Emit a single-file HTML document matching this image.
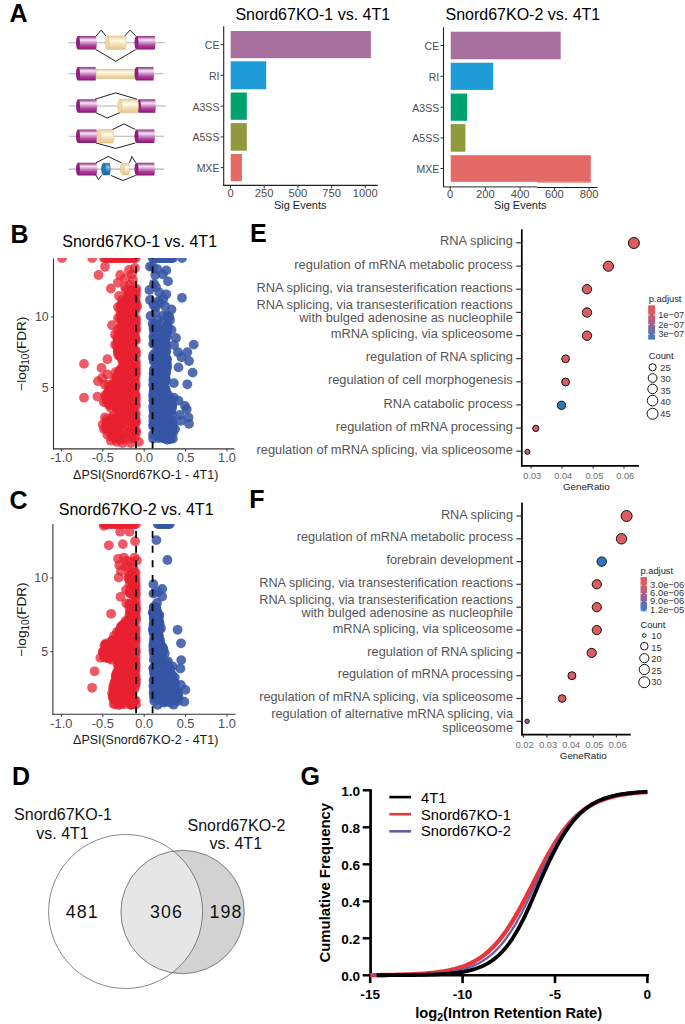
<!DOCTYPE html>
<html><head><meta charset="utf-8"><style>
html,body{margin:0;padding:0;background:#fff;width:685px;height:1024px;overflow:hidden;}
svg{display:block;}
text{font-family:"Liberation Sans",sans-serif;}
</style></head><body>
<svg width="685" height="1024" viewBox="0 0 685 1024">
<defs>
<linearGradient id="gp" x1="0" y1="0" x2="0" y2="1">
<stop offset="0" stop-color="#8a2c7e"/><stop offset="0.1" stop-color="#b066a8"/><stop offset="0.28" stop-color="#f4e6f2"/><stop offset="0.45" stop-color="#d4a2cc"/><stop offset="0.7" stop-color="#b0409a"/><stop offset="0.9" stop-color="#9a1f85"/><stop offset="1" stop-color="#7a1668"/></linearGradient>
<linearGradient id="gy" x1="0" y1="0" x2="0" y2="1">
<stop offset="0" stop-color="#e9cf98"/><stop offset="0.35" stop-color="#fffaf0"/><stop offset="0.6" stop-color="#f6e2b8"/><stop offset="1" stop-color="#e2c488"/></linearGradient>
<linearGradient id="gb" x1="0" y1="0" x2="0" y2="1">
<stop offset="0" stop-color="#1f6fa8"/><stop offset="0.35" stop-color="#8cc4e8"/><stop offset="0.6" stop-color="#3b8bc4"/><stop offset="1" stop-color="#1c5e94"/></linearGradient>
<linearGradient id="cbE" x1="0" y1="0" x2="0" y2="1">
<stop offset="0" stop-color="#e05a5e"/><stop offset="0.25" stop-color="#d45c68"/><stop offset="0.55" stop-color="#a26090"/><stop offset="0.8" stop-color="#5e70b0"/><stop offset="1" stop-color="#3a80c4"/></linearGradient>
<clipPath id="clipB"><rect x="54" y="258" width="181" height="191"/></clipPath>
<clipPath id="clipC"><rect x="53" y="524" width="183" height="191"/></clipPath>
<clipPath id="c2"><circle cx="182.6" cy="912" r="61.7"/></clipPath>

</defs>
<text x="9.4" y="21.9" font-size="25" fill="#000" text-anchor="start" font-weight="bold" >A</text>
<text x="10.5" y="243.0" font-size="25" fill="#000" text-anchor="start" font-weight="bold" >B</text>
<text x="9.6" y="508.5" font-size="25" fill="#000" text-anchor="start" font-weight="bold" >C</text>
<text x="12.0" y="784.8" font-size="25" fill="#000" text-anchor="start" font-weight="bold" >D</text>
<text x="250.0" y="241.9" font-size="25" fill="#000" text-anchor="start" font-weight="bold" >E</text>
<text x="249.3" y="508.4" font-size="25" fill="#000" text-anchor="start" font-weight="bold" >F</text>
<text x="300.6" y="785.2" font-size="25" fill="#000" text-anchor="start" font-weight="bold" >G</text>
<line x1="68.40" y1="42.80" x2="164.80" y2="42.80" stroke="#b0b0b0" stroke-width="1.1" />
<path d="M78.00,36.00 L96.10,36.00 Q97.70,42.80 96.10,49.60 L78.00,49.60 Z" fill="url(#gp)" stroke="none" stroke-width="0.5"/>
<ellipse cx="78.00" cy="42.80" rx="2" ry="6.80" fill="#8e1e80" stroke="none" stroke-width="0.5"/>
<path d="M107.20,36.00 L125.40,36.00 Q127.00,42.80 125.40,49.60 L107.20,49.60 Z" fill="url(#gy)" stroke="#d8b878" stroke-width="0.5"/>
<ellipse cx="107.20" cy="42.80" rx="2" ry="6.80" fill="#f0d8a8" stroke="#d8b878" stroke-width="0.5"/>
<path d="M136.50,36.00 L154.80,36.00 Q156.40,42.80 154.80,49.60 L136.50,49.60 Z" fill="url(#gp)" stroke="none" stroke-width="0.5"/>
<ellipse cx="136.50" cy="42.80" rx="2" ry="6.80" fill="#8e1e80" stroke="none" stroke-width="0.5"/>
<polyline points="96.0,36.0 101.2,30.2 106.0,36.0" fill="none" stroke="#222" stroke-width="1"/>
<polyline points="124.8,36.0 130.0,30.2 135.7,36.0" fill="none" stroke="#222" stroke-width="1"/>
<polyline points="96.0,49.6 115.7,61.3 135.7,49.6" fill="none" stroke="#222" stroke-width="1"/>
<line x1="68.40" y1="73.80" x2="163.50" y2="73.80" stroke="#b0b0b0" stroke-width="1.1" />
<path d="M78.00,67.00 L95.60,67.00 Q97.20,73.80 95.60,80.60 L78.00,80.60 Z" fill="url(#gp)" stroke="none" stroke-width="0.5"/>
<ellipse cx="78.00" cy="73.80" rx="2" ry="6.80" fill="#8e1e80" stroke="none" stroke-width="0.5"/>
<rect x="96" y="69.2" width="40" height="9.4" fill="url(#gy)" stroke="#d8b878" stroke-width="0.5"/>
<path d="M136.50,67.00 L153.40,67.00 Q155.00,73.80 153.40,80.60 L136.50,80.60 Z" fill="url(#gp)" stroke="none" stroke-width="0.5"/>
<ellipse cx="136.50" cy="73.80" rx="2" ry="6.80" fill="#8e1e80" stroke="none" stroke-width="0.5"/>
<line x1="68.80" y1="106.00" x2="165.60" y2="106.00" stroke="#b0b0b0" stroke-width="1.1" />
<path d="M78.10,99.20 L96.50,99.20 Q98.10,106.00 96.50,112.80 L78.10,112.80 Z" fill="url(#gp)" stroke="none" stroke-width="0.5"/>
<ellipse cx="78.10" cy="106.00" rx="2" ry="6.80" fill="#8e1e80" stroke="none" stroke-width="0.5"/>
<path d="M139.00,99.20 L155.20,99.20 Q156.80,106.00 155.20,112.80 L139.00,112.80 Z" fill="url(#gp)" stroke="none" stroke-width="0.5"/>
<ellipse cx="139.00" cy="106.00" rx="2" ry="6.80" fill="#8e1e80" stroke="none" stroke-width="0.5"/>
<path d="M119.80,99.20 L137.80,99.20 Q139.40,106.00 137.80,112.80 L119.80,112.80 Z" fill="url(#gy)" stroke="#d8b878" stroke-width="0.5"/>
<ellipse cx="119.80" cy="106.00" rx="2" ry="6.80" fill="#f0d8a8" stroke="#d8b878" stroke-width="0.5"/>
<polyline points="95.0,99.2 115.7,92.9 137.0,99.2" fill="none" stroke="#222" stroke-width="1"/>
<polyline points="96.0,112.8 107.3,118.0 119.6,112.8" fill="none" stroke="#222" stroke-width="1"/>
<line x1="68.80" y1="136.30" x2="164.00" y2="136.30" stroke="#b0b0b0" stroke-width="1.1" />
<path d="M78.00,129.50 L96.50,129.50 Q98.10,136.30 96.50,143.10 L78.00,143.10 Z" fill="url(#gp)" stroke="none" stroke-width="0.5"/>
<ellipse cx="78.00" cy="136.30" rx="2" ry="6.80" fill="#8e1e80" stroke="none" stroke-width="0.5"/>
<path d="M98.80,129.50 L113.10,129.50 Q114.70,136.30 113.10,143.10 L98.80,143.10 Z" fill="url(#gy)" stroke="#d8b878" stroke-width="0.5"/>
<ellipse cx="98.80" cy="136.30" rx="2" ry="6.80" fill="#f0d8a8" stroke="#d8b878" stroke-width="0.5"/>
<path d="M136.50,129.50 L154.30,129.50 Q155.90,136.30 154.30,143.10 L136.50,143.10 Z" fill="url(#gp)" stroke="none" stroke-width="0.5"/>
<ellipse cx="136.50" cy="136.30" rx="2" ry="6.80" fill="#8e1e80" stroke="none" stroke-width="0.5"/>
<polyline points="112.6,129.5 124.0,123.9 135.3,129.5" fill="none" stroke="#222" stroke-width="1"/>
<polyline points="96.0,143.0 115.7,148.4 135.3,143.0" fill="none" stroke="#222" stroke-width="1"/>
<line x1="68.80" y1="169.10" x2="164.00" y2="169.10" stroke="#b0b0b0" stroke-width="1.1" />
<path d="M78.00,162.80 L96.50,162.80 Q98.10,169.10 96.50,175.40 L78.00,175.40 Z" fill="url(#gp)" stroke="none" stroke-width="0.5"/>
<ellipse cx="78.00" cy="169.10" rx="2" ry="6.30" fill="#8e1e80" stroke="none" stroke-width="0.5"/>
<path d="M103.50,163.30 L109.60,163.30 Q111.20,169.10 109.60,174.90 L103.50,174.90 Z" fill="url(#gb)" stroke="#1a5a90" stroke-width="0.5"/>
<ellipse cx="103.50" cy="169.10" rx="2" ry="5.80" fill="#2a78b0" stroke="#1a5a90" stroke-width="0.5"/>
<path d="M122.40,163.30 L128.80,163.30 Q130.40,169.10 128.80,174.90 L122.40,174.90 Z" fill="url(#gy)" stroke="#d8b878" stroke-width="0.5"/>
<ellipse cx="122.40" cy="169.10" rx="2" ry="5.80" fill="#f0d8a8" stroke="#d8b878" stroke-width="0.5"/>
<path d="M136.50,162.80 L154.30,162.80 Q155.90,169.10 154.30,175.40 L136.50,175.40 Z" fill="url(#gp)" stroke="none" stroke-width="0.5"/>
<ellipse cx="136.50" cy="169.10" rx="2" ry="6.30" fill="#8e1e80" stroke="none" stroke-width="0.5"/>
<polyline points="96.0,162.8 108.2,156.5 121.5,162.8" fill="none" stroke="#222" stroke-width="1"/>
<polyline points="129.5,162.8 131.8,156.5 135.7,162.8" fill="none" stroke="#222" stroke-width="1"/>
<polyline points="96.0,175.4 98.5,179.6 101.5,175.4" fill="none" stroke="#222" stroke-width="1"/>
<polyline points="110.8,175.4 123.0,180.5 135.7,175.4" fill="none" stroke="#222" stroke-width="1"/>
<text x="235.4" y="19.8" font-size="16" fill="#000" text-anchor="start" >Snord67KO-1 vs. 4T1</text>
<rect x="230.70" y="31.00" width="140.20" height="27.20" fill="#a8709f" />
<rect x="230.70" y="61.30" width="35.50" height="28.00" fill="#1e9cd7" />
<rect x="230.70" y="92.50" width="16.10" height="27.30" fill="#00a36e" />
<rect x="230.70" y="123.10" width="16.10" height="27.60" fill="#8e9a3c" />
<rect x="230.70" y="154.00" width="11.20" height="27.20" fill="#e46a66" />
<line x1="223.70" y1="26.20" x2="223.70" y2="185.90" stroke="#222" stroke-width="1.1" />
<line x1="223.20" y1="185.40" x2="377.70" y2="185.40" stroke="#222" stroke-width="1.1" />
<line x1="220.70" y1="44.60" x2="223.70" y2="44.60" stroke="#333" stroke-width="1" />
<text x="219.4" y="48.9" font-size="10.5" fill="#4d4d4d" text-anchor="end" >CE</text>
<line x1="220.70" y1="75.30" x2="223.70" y2="75.30" stroke="#333" stroke-width="1" />
<text x="219.4" y="79.6" font-size="10.5" fill="#4d4d4d" text-anchor="end" >RI</text>
<line x1="220.70" y1="106.15" x2="223.70" y2="106.15" stroke="#333" stroke-width="1" />
<text x="219.4" y="110.5" font-size="10.5" fill="#4d4d4d" text-anchor="end" >A3SS</text>
<line x1="220.70" y1="136.90" x2="223.70" y2="136.90" stroke="#333" stroke-width="1" />
<text x="219.4" y="141.2" font-size="10.5" fill="#4d4d4d" text-anchor="end" >A5SS</text>
<line x1="220.70" y1="167.60" x2="223.70" y2="167.60" stroke="#333" stroke-width="1" />
<text x="219.4" y="171.9" font-size="10.5" fill="#4d4d4d" text-anchor="end" >MXE</text>
<line x1="230.50" y1="185.40" x2="230.50" y2="188.40" stroke="#333" stroke-width="1" />
<text x="230.5" y="197.3" font-size="11.2" fill="#4d4d4d" text-anchor="middle" >0</text>
<line x1="264.20" y1="185.40" x2="264.20" y2="188.40" stroke="#333" stroke-width="1" />
<text x="264.2" y="197.3" font-size="11.2" fill="#4d4d4d" text-anchor="middle" >250</text>
<line x1="297.90" y1="185.40" x2="297.90" y2="188.40" stroke="#333" stroke-width="1" />
<text x="297.9" y="197.3" font-size="11.2" fill="#4d4d4d" text-anchor="middle" >500</text>
<line x1="331.60" y1="185.40" x2="331.60" y2="188.40" stroke="#333" stroke-width="1" />
<text x="331.6" y="197.3" font-size="11.2" fill="#4d4d4d" text-anchor="middle" >750</text>
<line x1="365.30" y1="185.40" x2="365.30" y2="188.40" stroke="#333" stroke-width="1" />
<text x="365.3" y="197.3" font-size="11.2" fill="#4d4d4d" text-anchor="middle" >1000</text>
<text x="300.2" y="208.7" font-size="11" fill="#1a1a1a" text-anchor="middle" >Sig Events</text>
<text x="445.5" y="20.4" font-size="16" fill="#000" text-anchor="start" >Snord67KO-2 vs. 4T1</text>
<rect x="450.70" y="31.70" width="110.00" height="27.60" fill="#a8709f" />
<rect x="450.70" y="62.70" width="42.50" height="27.20" fill="#1e9cd7" />
<rect x="450.70" y="93.60" width="16.30" height="27.20" fill="#00a36e" />
<rect x="450.70" y="124.10" width="14.70" height="27.60" fill="#8e9a3c" />
<rect x="450.70" y="155.20" width="140.10" height="26.60" fill="#e46a66" />
<rect x="536.80" y="181.70" width="54.00" height="0.90" fill="#e46a66" />
<line x1="443.50" y1="27.20" x2="443.50" y2="187.40" stroke="#222" stroke-width="1.1" />
<line x1="443.00" y1="186.90" x2="536.80" y2="186.90" stroke="#555" stroke-width="1.3" />
<line x1="536.80" y1="187.50" x2="597.60" y2="187.50" stroke="#1a1a1a" stroke-width="1.0" />
<line x1="440.50" y1="45.50" x2="443.50" y2="45.50" stroke="#333" stroke-width="1" />
<text x="439.2" y="49.8" font-size="10.5" fill="#4d4d4d" text-anchor="end" >CE</text>
<line x1="440.50" y1="76.30" x2="443.50" y2="76.30" stroke="#333" stroke-width="1" />
<text x="439.2" y="80.6" font-size="10.5" fill="#4d4d4d" text-anchor="end" >RI</text>
<line x1="440.50" y1="107.20" x2="443.50" y2="107.20" stroke="#333" stroke-width="1" />
<text x="439.2" y="111.5" font-size="10.5" fill="#4d4d4d" text-anchor="end" >A3SS</text>
<line x1="440.50" y1="137.90" x2="443.50" y2="137.90" stroke="#333" stroke-width="1" />
<text x="439.2" y="142.2" font-size="10.5" fill="#4d4d4d" text-anchor="end" >A5SS</text>
<line x1="440.50" y1="168.50" x2="443.50" y2="168.50" stroke="#333" stroke-width="1" />
<text x="439.2" y="172.8" font-size="10.5" fill="#4d4d4d" text-anchor="end" >MXE</text>
<line x1="450.20" y1="186.90" x2="450.20" y2="189.90" stroke="#333" stroke-width="1" />
<text x="450.2" y="198.3" font-size="11.2" fill="#4d4d4d" text-anchor="middle" >0</text>
<line x1="485.40" y1="186.90" x2="485.40" y2="189.90" stroke="#333" stroke-width="1" />
<text x="485.4" y="198.3" font-size="11.2" fill="#4d4d4d" text-anchor="middle" >200</text>
<line x1="520.10" y1="186.90" x2="520.10" y2="189.90" stroke="#333" stroke-width="1" />
<text x="520.1" y="198.3" font-size="11.2" fill="#4d4d4d" text-anchor="middle" >400</text>
<line x1="554.40" y1="186.90" x2="554.40" y2="189.90" stroke="#333" stroke-width="1" />
<text x="554.4" y="198.3" font-size="11.2" fill="#4d4d4d" text-anchor="middle" >600</text>
<line x1="589.10" y1="186.90" x2="589.10" y2="189.90" stroke="#333" stroke-width="1" />
<text x="589.1" y="198.3" font-size="11.2" fill="#4d4d4d" text-anchor="middle" >800</text>
<text x="520.2" y="209.3" font-size="11" fill="#1a1a1a" text-anchor="middle" >Sig Events</text>
<text x="62.3" y="247.4" font-size="16" fill="#000" text-anchor="start" >Snord67KO-1 vs. 4T1</text>
<g clip-path="url(#clipB)" fill="#e8202f" fill-opacity="0.74">
<circle cx="62.0" cy="258.0" r="4.9"/>
<circle cx="92.2" cy="258.0" r="4.9"/>
<circle cx="104.0" cy="258.0" r="4.9"/>
<circle cx="105.5" cy="258.0" r="4.9"/>
<circle cx="107.0" cy="258.0" r="4.9"/>
<circle cx="108.5" cy="258.0" r="4.9"/>
<circle cx="110.0" cy="258.0" r="4.9"/>
<circle cx="111.5" cy="258.0" r="4.9"/>
<circle cx="113.1" cy="258.0" r="4.9"/>
<circle cx="114.6" cy="258.0" r="4.9"/>
<circle cx="116.1" cy="258.0" r="4.9"/>
<circle cx="117.6" cy="258.0" r="4.9"/>
<circle cx="119.1" cy="258.0" r="4.9"/>
<circle cx="120.6" cy="258.0" r="4.9"/>
<circle cx="122.1" cy="258.0" r="4.9"/>
<circle cx="123.6" cy="258.0" r="4.9"/>
<circle cx="125.1" cy="258.0" r="4.9"/>
<circle cx="126.6" cy="258.0" r="4.9"/>
<circle cx="128.2" cy="258.0" r="4.9"/>
<circle cx="129.7" cy="258.0" r="4.9"/>
<circle cx="131.2" cy="258.0" r="4.9"/>
<circle cx="132.7" cy="258.0" r="4.9"/>
<circle cx="134.2" cy="258.0" r="4.9"/>
<circle cx="135.7" cy="258.0" r="4.9"/>
<circle cx="105.0" cy="266.8" r="4.9"/>
<circle cx="98.6" cy="275.0" r="4.9"/>
<circle cx="120.2" cy="275.0" r="4.9"/>
<circle cx="131.9" cy="274.4" r="4.9"/>
<circle cx="124.9" cy="278.5" r="4.9"/>
<circle cx="117.9" cy="282.6" r="4.9"/>
<circle cx="110.9" cy="288.5" r="4.9"/>
<circle cx="136.0" cy="288.5" r="4.9"/>
<circle cx="119.0" cy="296.0" r="4.9"/>
<circle cx="126.0" cy="290.0" r="4.9"/>
<circle cx="130.0" cy="285.0" r="4.9"/>
<circle cx="133.0" cy="280.0" r="4.9"/>
<circle cx="128.0" cy="296.0" r="4.9"/>
<circle cx="134.0" cy="296.0" r="4.9"/>
<circle cx="137.2" cy="306.0" r="4.9"/>
<circle cx="117.9" cy="307.1" r="4.9"/>
<circle cx="112.0" cy="325.2" r="4.9"/>
<circle cx="129.0" cy="270.0" r="4.9"/>
<circle cx="135.0" cy="268.0" r="4.9"/>
<circle cx="122.0" cy="300.0" r="4.9"/>
<circle cx="125.0" cy="287.0" r="4.9"/>
<circle cx="115.0" cy="334.7" r="4.9"/>
<circle cx="115.0" cy="344.6" r="4.9"/>
<circle cx="107.4" cy="359.2" r="4.9"/>
<circle cx="101.5" cy="368.0" r="4.9"/>
<circle cx="107.4" cy="374.4" r="4.9"/>
<circle cx="102.1" cy="377.9" r="4.9"/>
<circle cx="108.5" cy="384.9" r="4.9"/>
<circle cx="114.4" cy="380.2" r="4.9"/>
<circle cx="97.4" cy="396.6" r="4.9"/>
<circle cx="84.0" cy="363.9" r="4.9"/>
<circle cx="84.0" cy="397.7" r="4.9"/>
<circle cx="98.0" cy="381.2" r="4.9"/>
<circle cx="105.0" cy="384.7" r="4.9"/>
<circle cx="108.5" cy="391.7" r="4.9"/>
<circle cx="105.0" cy="395.2" r="4.9"/>
<circle cx="103.9" cy="402.2" r="4.9"/>
<circle cx="110.9" cy="408.0" r="4.9"/>
<circle cx="105.0" cy="417.4" r="4.9"/>
<circle cx="102.7" cy="424.4" r="4.9"/>
<circle cx="103.9" cy="429.0" r="4.9"/>
<circle cx="107.4" cy="434.9" r="4.9"/>
<circle cx="110.9" cy="440.7" r="4.9"/>
<circle cx="116.7" cy="441.9" r="4.9"/>
<circle cx="122.6" cy="443.0" r="4.9"/>
<circle cx="130.7" cy="443.0" r="4.9"/>
<circle cx="138.9" cy="441.9" r="4.9"/>
<circle cx="121.0" cy="352.0" r="4.9"/>
<circle cx="118.0" cy="318.0" r="4.9"/>
<circle cx="120.0" cy="310.0" r="4.9"/>
<circle cx="125.2" cy="349.5" r="4.9"/>
<circle cx="116.9" cy="408.9" r="4.9"/>
<circle cx="115.2" cy="388.1" r="4.9"/>
<circle cx="111.7" cy="423.5" r="4.9"/>
<circle cx="107.0" cy="427.6" r="4.9"/>
<circle cx="132.6" cy="352.5" r="4.9"/>
<circle cx="128.5" cy="300.7" r="4.9"/>
<circle cx="134.8" cy="380.2" r="4.9"/>
<circle cx="124.6" cy="345.5" r="4.9"/>
<circle cx="112.9" cy="436.5" r="4.9"/>
<circle cx="132.0" cy="392.3" r="4.9"/>
<circle cx="134.0" cy="428.0" r="4.9"/>
<circle cx="132.1" cy="415.3" r="4.9"/>
<circle cx="135.9" cy="433.2" r="4.9"/>
<circle cx="117.3" cy="379.1" r="4.9"/>
<circle cx="128.4" cy="352.0" r="4.9"/>
<circle cx="130.1" cy="362.4" r="4.9"/>
<circle cx="114.6" cy="419.3" r="4.9"/>
<circle cx="120.9" cy="315.1" r="4.9"/>
<circle cx="125.2" cy="352.5" r="4.9"/>
<circle cx="132.8" cy="296.6" r="4.9"/>
<circle cx="131.6" cy="317.7" r="4.9"/>
<circle cx="124.1" cy="347.6" r="4.9"/>
<circle cx="134.4" cy="414.3" r="4.9"/>
<circle cx="135.6" cy="376.4" r="4.9"/>
<circle cx="116.9" cy="430.9" r="4.9"/>
<circle cx="118.7" cy="419.8" r="4.9"/>
<circle cx="108.9" cy="396.4" r="4.9"/>
<circle cx="125.3" cy="424.4" r="4.9"/>
<circle cx="129.9" cy="342.8" r="4.9"/>
<circle cx="130.9" cy="361.2" r="4.9"/>
<circle cx="134.7" cy="397.7" r="4.9"/>
<circle cx="120.4" cy="413.5" r="4.9"/>
<circle cx="118.1" cy="352.2" r="4.9"/>
<circle cx="117.2" cy="337.8" r="4.9"/>
<circle cx="117.8" cy="374.4" r="4.9"/>
<circle cx="132.5" cy="408.4" r="4.9"/>
<circle cx="130.5" cy="389.3" r="4.9"/>
<circle cx="115.1" cy="401.8" r="4.9"/>
<circle cx="123.3" cy="358.7" r="4.9"/>
<circle cx="121.9" cy="368.2" r="4.9"/>
<circle cx="116.9" cy="404.2" r="4.9"/>
<circle cx="128.1" cy="428.2" r="4.9"/>
<circle cx="122.0" cy="368.8" r="4.9"/>
<circle cx="116.4" cy="377.0" r="4.9"/>
<circle cx="127.8" cy="298.2" r="4.9"/>
<circle cx="135.2" cy="321.5" r="4.9"/>
<circle cx="133.3" cy="317.2" r="4.9"/>
<circle cx="132.8" cy="338.3" r="4.9"/>
<circle cx="128.8" cy="375.0" r="4.9"/>
<circle cx="135.7" cy="400.8" r="4.9"/>
<circle cx="125.1" cy="386.9" r="4.9"/>
<circle cx="121.0" cy="372.5" r="4.9"/>
<circle cx="126.9" cy="355.6" r="4.9"/>
<circle cx="135.0" cy="417.3" r="4.9"/>
<circle cx="126.6" cy="380.1" r="4.9"/>
<circle cx="106.7" cy="419.7" r="4.9"/>
<circle cx="132.8" cy="369.4" r="4.9"/>
<circle cx="121.1" cy="420.9" r="4.9"/>
<circle cx="120.2" cy="348.0" r="4.9"/>
<circle cx="135.6" cy="301.3" r="4.9"/>
<circle cx="135.6" cy="303.7" r="4.9"/>
<circle cx="129.4" cy="390.7" r="4.9"/>
<circle cx="120.9" cy="305.5" r="4.9"/>
<circle cx="135.8" cy="364.8" r="4.9"/>
<circle cx="129.6" cy="349.9" r="4.9"/>
<circle cx="131.6" cy="327.1" r="4.9"/>
<circle cx="125.4" cy="379.7" r="4.9"/>
<circle cx="135.8" cy="323.3" r="4.9"/>
<circle cx="131.7" cy="335.1" r="4.9"/>
<circle cx="121.9" cy="369.6" r="4.9"/>
<circle cx="120.3" cy="389.4" r="4.9"/>
<circle cx="122.2" cy="410.6" r="4.9"/>
<circle cx="127.2" cy="385.9" r="4.9"/>
<circle cx="129.2" cy="293.6" r="4.9"/>
<circle cx="121.9" cy="306.4" r="4.9"/>
<circle cx="127.6" cy="419.8" r="4.9"/>
<circle cx="120.7" cy="326.1" r="4.9"/>
<circle cx="124.3" cy="343.9" r="4.9"/>
<circle cx="134.7" cy="355.2" r="4.9"/>
<circle cx="135.6" cy="320.4" r="4.9"/>
<circle cx="131.0" cy="342.9" r="4.9"/>
<circle cx="118.5" cy="342.9" r="4.9"/>
<circle cx="108.4" cy="403.0" r="4.9"/>
<circle cx="123.2" cy="380.9" r="4.9"/>
<circle cx="135.6" cy="302.5" r="4.9"/>
<circle cx="126.3" cy="403.1" r="4.9"/>
<circle cx="135.9" cy="430.6" r="4.9"/>
<circle cx="119.7" cy="351.4" r="4.9"/>
<circle cx="133.7" cy="293.3" r="4.9"/>
<circle cx="131.8" cy="405.8" r="4.9"/>
<circle cx="118.7" cy="372.8" r="4.9"/>
<circle cx="120.9" cy="349.6" r="4.9"/>
<circle cx="122.6" cy="348.5" r="4.9"/>
<circle cx="128.8" cy="384.1" r="4.9"/>
<circle cx="110.0" cy="420.6" r="4.9"/>
<circle cx="121.0" cy="434.5" r="4.9"/>
<circle cx="122.5" cy="319.3" r="4.9"/>
<circle cx="121.0" cy="315.6" r="4.9"/>
<circle cx="106.9" cy="395.5" r="4.9"/>
<circle cx="106.4" cy="425.0" r="4.9"/>
<circle cx="123.8" cy="412.7" r="4.9"/>
<circle cx="126.6" cy="302.0" r="4.9"/>
<circle cx="131.6" cy="311.2" r="4.9"/>
<circle cx="134.9" cy="331.5" r="4.9"/>
<circle cx="113.9" cy="384.5" r="4.9"/>
<circle cx="114.9" cy="436.9" r="4.9"/>
<circle cx="117.8" cy="422.6" r="4.9"/>
<circle cx="135.4" cy="395.1" r="4.9"/>
<circle cx="119.8" cy="424.5" r="4.9"/>
<circle cx="127.6" cy="369.2" r="4.9"/>
<circle cx="135.7" cy="383.5" r="4.9"/>
<circle cx="130.5" cy="328.8" r="4.9"/>
<circle cx="122.5" cy="357.9" r="4.9"/>
<circle cx="121.3" cy="305.3" r="4.9"/>
<circle cx="132.1" cy="408.8" r="4.9"/>
<circle cx="112.9" cy="392.0" r="4.9"/>
<circle cx="116.2" cy="438.6" r="4.9"/>
<circle cx="126.8" cy="415.2" r="4.9"/>
<circle cx="132.2" cy="366.1" r="4.9"/>
<circle cx="135.5" cy="404.6" r="4.9"/>
<circle cx="126.5" cy="403.6" r="4.9"/>
<circle cx="133.2" cy="356.3" r="4.9"/>
<circle cx="117.2" cy="422.0" r="4.9"/>
<circle cx="133.8" cy="340.5" r="4.9"/>
<circle cx="135.1" cy="370.4" r="4.9"/>
<circle cx="135.5" cy="386.4" r="4.9"/>
<circle cx="121.9" cy="421.2" r="4.9"/>
<circle cx="123.2" cy="365.3" r="4.9"/>
<circle cx="123.0" cy="351.6" r="4.9"/>
<circle cx="125.0" cy="330.3" r="4.9"/>
<circle cx="119.5" cy="421.8" r="4.9"/>
<circle cx="135.3" cy="350.0" r="4.9"/>
<circle cx="125.0" cy="360.1" r="4.9"/>
<circle cx="132.3" cy="378.3" r="4.9"/>
<circle cx="111.4" cy="386.7" r="4.9"/>
<circle cx="130.0" cy="330.3" r="4.9"/>
<circle cx="123.9" cy="346.0" r="4.9"/>
<circle cx="133.3" cy="359.6" r="4.9"/>
<circle cx="135.9" cy="406.0" r="4.9"/>
<circle cx="135.9" cy="373.3" r="4.9"/>
<circle cx="135.6" cy="339.6" r="4.9"/>
<circle cx="119.0" cy="394.9" r="4.9"/>
<circle cx="130.8" cy="354.7" r="4.9"/>
<circle cx="119.6" cy="411.6" r="4.9"/>
<circle cx="116.3" cy="430.2" r="4.9"/>
<circle cx="109.1" cy="390.3" r="4.9"/>
<circle cx="136.0" cy="329.7" r="4.9"/>
<circle cx="106.7" cy="422.1" r="4.9"/>
<circle cx="135.7" cy="370.9" r="4.9"/>
<circle cx="133.1" cy="419.1" r="4.9"/>
<circle cx="127.0" cy="336.8" r="4.9"/>
<circle cx="114.1" cy="419.4" r="4.9"/>
<circle cx="130.7" cy="420.7" r="4.9"/>
<circle cx="118.3" cy="355.2" r="4.9"/>
<circle cx="132.0" cy="353.8" r="4.9"/>
<circle cx="120.3" cy="422.0" r="4.9"/>
<circle cx="119.9" cy="387.0" r="4.9"/>
<circle cx="124.6" cy="304.1" r="4.9"/>
<circle cx="113.5" cy="390.6" r="4.9"/>
<circle cx="110.2" cy="394.1" r="4.9"/>
<circle cx="135.7" cy="307.7" r="4.9"/>
<circle cx="118.6" cy="431.6" r="4.9"/>
<circle cx="135.0" cy="335.7" r="4.9"/>
<circle cx="106.3" cy="401.2" r="4.9"/>
<circle cx="116.0" cy="399.2" r="4.9"/>
<circle cx="120.1" cy="356.2" r="4.9"/>
<circle cx="120.1" cy="375.4" r="4.9"/>
<circle cx="121.2" cy="370.2" r="4.9"/>
<circle cx="135.7" cy="413.3" r="4.9"/>
<circle cx="118.7" cy="380.5" r="4.9"/>
<circle cx="130.2" cy="299.0" r="4.9"/>
<circle cx="122.5" cy="309.7" r="4.9"/>
<circle cx="125.2" cy="361.9" r="4.9"/>
<circle cx="135.0" cy="337.4" r="4.9"/>
<circle cx="136.0" cy="318.1" r="4.9"/>
<circle cx="114.6" cy="401.3" r="4.9"/>
<circle cx="108.2" cy="399.3" r="4.9"/>
<circle cx="118.0" cy="350.5" r="4.9"/>
<circle cx="124.3" cy="302.9" r="4.9"/>
<circle cx="128.4" cy="345.6" r="4.9"/>
<circle cx="134.8" cy="373.9" r="4.9"/>
<circle cx="130.6" cy="306.5" r="4.9"/>
<circle cx="123.2" cy="315.9" r="4.9"/>
<circle cx="122.5" cy="341.8" r="4.9"/>
<circle cx="106.7" cy="427.3" r="4.9"/>
<circle cx="117.5" cy="423.7" r="4.9"/>
<circle cx="119.6" cy="348.6" r="4.9"/>
<circle cx="115.9" cy="397.4" r="4.9"/>
<circle cx="135.9" cy="294.6" r="4.9"/>
<circle cx="123.8" cy="361.9" r="4.9"/>
<circle cx="118.7" cy="416.0" r="4.9"/>
<circle cx="120.3" cy="319.0" r="4.9"/>
<circle cx="122.3" cy="360.9" r="4.9"/>
<circle cx="122.2" cy="306.8" r="4.9"/>
<circle cx="135.5" cy="306.9" r="4.9"/>
<circle cx="125.0" cy="369.7" r="4.9"/>
<circle cx="133.6" cy="411.0" r="4.9"/>
<circle cx="123.2" cy="373.3" r="4.9"/>
<circle cx="134.9" cy="320.1" r="4.9"/>
<circle cx="123.4" cy="410.3" r="4.9"/>
<circle cx="123.4" cy="418.9" r="4.9"/>
<circle cx="130.3" cy="368.0" r="4.9"/>
<circle cx="122.3" cy="402.7" r="4.9"/>
<circle cx="135.6" cy="395.1" r="4.9"/>
<circle cx="127.7" cy="320.0" r="4.9"/>
<circle cx="120.0" cy="370.2" r="4.9"/>
<circle cx="123.7" cy="365.8" r="4.9"/>
<circle cx="117.3" cy="346.8" r="4.9"/>
<circle cx="117.3" cy="378.7" r="4.9"/>
<circle cx="132.3" cy="429.6" r="4.9"/>
<circle cx="129.0" cy="399.0" r="4.9"/>
<circle cx="125.2" cy="362.1" r="4.9"/>
<circle cx="117.2" cy="407.3" r="4.9"/>
<circle cx="126.6" cy="365.8" r="4.9"/>
<circle cx="125.8" cy="307.2" r="4.9"/>
<circle cx="121.9" cy="357.7" r="4.9"/>
<circle cx="131.2" cy="438.5" r="4.9"/>
<circle cx="133.5" cy="324.8" r="4.9"/>
<circle cx="109.0" cy="405.3" r="4.9"/>
<circle cx="132.8" cy="353.3" r="4.9"/>
<circle cx="127.0" cy="320.9" r="4.9"/>
<circle cx="134.0" cy="297.5" r="4.9"/>
<circle cx="131.0" cy="315.6" r="4.9"/>
<circle cx="129.4" cy="431.2" r="4.9"/>
<circle cx="128.4" cy="372.9" r="4.9"/>
<circle cx="132.9" cy="359.9" r="4.9"/>
<circle cx="131.0" cy="367.6" r="4.9"/>
<circle cx="112.0" cy="433.9" r="4.9"/>
<circle cx="114.8" cy="389.2" r="4.9"/>
<circle cx="135.9" cy="328.9" r="4.9"/>
<circle cx="123.2" cy="384.3" r="4.9"/>
<circle cx="132.0" cy="405.3" r="4.9"/>
<circle cx="123.5" cy="407.5" r="4.9"/>
<circle cx="127.0" cy="305.5" r="4.9"/>
<circle cx="128.1" cy="330.1" r="4.9"/>
<circle cx="120.5" cy="369.3" r="4.9"/>
<circle cx="121.4" cy="357.6" r="4.9"/>
<circle cx="131.4" cy="407.2" r="4.9"/>
<circle cx="131.4" cy="294.7" r="4.9"/>
<circle cx="123.7" cy="378.9" r="4.9"/>
<circle cx="128.4" cy="296.6" r="4.9"/>
<circle cx="123.6" cy="355.4" r="4.9"/>
<circle cx="133.1" cy="371.3" r="4.9"/>
<circle cx="128.6" cy="360.5" r="4.9"/>
<circle cx="132.0" cy="320.5" r="4.9"/>
<circle cx="123.9" cy="380.7" r="4.9"/>
<circle cx="125.4" cy="370.9" r="4.9"/>
<circle cx="123.4" cy="409.1" r="4.9"/>
<circle cx="131.0" cy="401.0" r="4.9"/>
<circle cx="117.8" cy="380.6" r="4.9"/>
<circle cx="119.1" cy="331.2" r="4.9"/>
<circle cx="113.9" cy="424.7" r="4.9"/>
<circle cx="106.3" cy="423.7" r="4.9"/>
<circle cx="135.7" cy="422.7" r="4.9"/>
<circle cx="122.8" cy="415.1" r="4.9"/>
<circle cx="130.5" cy="326.8" r="4.9"/>
<circle cx="128.5" cy="298.2" r="4.9"/>
<circle cx="124.9" cy="401.5" r="4.9"/>
<circle cx="117.4" cy="330.1" r="4.9"/>
<circle cx="124.2" cy="390.1" r="4.9"/>
<circle cx="127.3" cy="339.9" r="4.9"/>
<circle cx="116.2" cy="382.4" r="4.9"/>
<circle cx="130.1" cy="362.7" r="4.9"/>
<circle cx="119.5" cy="371.1" r="4.9"/>
<circle cx="131.0" cy="407.2" r="4.9"/>
<circle cx="129.1" cy="334.1" r="4.9"/>
<circle cx="126.7" cy="380.4" r="4.9"/>
<circle cx="124.0" cy="419.0" r="4.9"/>
<circle cx="128.2" cy="420.2" r="4.9"/>
<circle cx="117.0" cy="424.9" r="4.9"/>
<circle cx="122.4" cy="387.4" r="4.9"/>
<circle cx="112.6" cy="416.4" r="4.9"/>
<circle cx="118.1" cy="350.6" r="4.9"/>
<circle cx="129.4" cy="414.4" r="4.9"/>
<circle cx="133.5" cy="430.6" r="4.9"/>
<circle cx="121.2" cy="411.0" r="4.9"/>
<circle cx="118.6" cy="351.2" r="4.9"/>
<circle cx="120.9" cy="356.2" r="4.9"/>
<circle cx="123.4" cy="302.6" r="4.9"/>
<circle cx="122.2" cy="323.6" r="4.9"/>
<circle cx="130.4" cy="345.9" r="4.9"/>
<circle cx="133.2" cy="323.3" r="4.9"/>
<circle cx="125.4" cy="348.3" r="4.9"/>
<circle cx="134.3" cy="438.0" r="4.9"/>
<circle cx="135.6" cy="297.1" r="4.9"/>
<circle cx="116.0" cy="424.5" r="4.9"/>
<circle cx="126.2" cy="341.9" r="4.9"/>
<circle cx="120.5" cy="425.5" r="4.9"/>
<circle cx="125.7" cy="349.2" r="4.9"/>
<circle cx="110.4" cy="421.3" r="4.9"/>
<circle cx="124.8" cy="337.2" r="4.9"/>
<circle cx="128.9" cy="359.1" r="4.9"/>
<circle cx="130.7" cy="436.1" r="4.9"/>
<circle cx="135.6" cy="325.6" r="4.9"/>
<circle cx="131.0" cy="389.8" r="4.9"/>
<circle cx="128.5" cy="323.1" r="4.9"/>
<circle cx="106.2" cy="428.1" r="4.9"/>
<circle cx="130.1" cy="382.2" r="4.9"/>
<circle cx="117.6" cy="436.5" r="4.9"/>
<circle cx="122.2" cy="356.5" r="4.9"/>
<circle cx="126.3" cy="410.2" r="4.9"/>
<circle cx="131.9" cy="341.8" r="4.9"/>
<circle cx="120.9" cy="375.3" r="4.9"/>
<circle cx="126.2" cy="353.1" r="4.9"/>
<circle cx="135.5" cy="310.4" r="4.9"/>
<circle cx="132.9" cy="347.6" r="4.9"/>
<circle cx="121.8" cy="332.3" r="4.9"/>
<circle cx="118.3" cy="341.2" r="4.9"/>
<circle cx="128.5" cy="294.2" r="4.9"/>
<circle cx="131.7" cy="344.1" r="4.9"/>
<circle cx="133.2" cy="316.4" r="4.9"/>
<circle cx="126.6" cy="344.2" r="4.9"/>
<circle cx="124.5" cy="392.4" r="4.9"/>
<circle cx="122.8" cy="373.0" r="4.9"/>
<circle cx="132.7" cy="411.1" r="4.9"/>
<circle cx="112.4" cy="400.3" r="4.9"/>
<circle cx="133.8" cy="418.7" r="4.9"/>
<circle cx="111.1" cy="399.1" r="4.9"/>
<circle cx="129.4" cy="323.0" r="4.9"/>
<circle cx="126.0" cy="323.0" r="4.9"/>
<circle cx="134.0" cy="322.2" r="4.9"/>
<circle cx="135.7" cy="397.6" r="4.9"/>
<circle cx="133.5" cy="384.6" r="4.9"/>
<circle cx="128.2" cy="320.0" r="4.9"/>
<circle cx="126.2" cy="340.2" r="4.9"/>
<circle cx="135.9" cy="290.9" r="4.9"/>
<circle cx="130.7" cy="391.3" r="4.9"/>
<circle cx="116.5" cy="381.6" r="4.9"/>
<circle cx="127.2" cy="332.4" r="4.9"/>
<circle cx="127.0" cy="398.1" r="4.9"/>
<circle cx="121.2" cy="370.3" r="4.9"/>
<circle cx="123.0" cy="367.3" r="4.9"/>
<circle cx="122.3" cy="368.6" r="4.9"/>
<circle cx="125.5" cy="316.8" r="4.9"/>
<circle cx="135.8" cy="422.7" r="4.9"/>
<circle cx="128.1" cy="339.7" r="4.9"/>
<circle cx="125.4" cy="310.9" r="4.9"/>
<circle cx="121.1" cy="418.2" r="4.9"/>
<circle cx="134.2" cy="388.3" r="4.9"/>
<circle cx="120.6" cy="374.6" r="4.9"/>
<circle cx="123.2" cy="370.8" r="4.9"/>
<circle cx="111.7" cy="418.1" r="4.9"/>
<circle cx="118.1" cy="352.3" r="4.9"/>
<circle cx="115.7" cy="434.2" r="4.9"/>
<circle cx="116.9" cy="388.1" r="4.9"/>
<circle cx="120.7" cy="415.4" r="4.9"/>
<circle cx="129.1" cy="361.9" r="4.9"/>
<circle cx="128.3" cy="403.2" r="4.9"/>
<circle cx="135.2" cy="386.8" r="4.9"/>
<circle cx="110.8" cy="421.4" r="4.9"/>
<circle cx="124.7" cy="325.7" r="4.9"/>
<circle cx="115.3" cy="384.4" r="4.9"/>
<circle cx="135.6" cy="322.4" r="4.9"/>
<circle cx="117.3" cy="403.0" r="4.9"/>
<circle cx="120.0" cy="424.5" r="4.9"/>
<circle cx="133.8" cy="372.9" r="4.9"/>
<circle cx="124.2" cy="327.1" r="4.9"/>
<circle cx="135.9" cy="351.6" r="4.9"/>
<circle cx="119.5" cy="334.8" r="4.9"/>
<circle cx="120.0" cy="355.3" r="4.9"/>
<circle cx="127.7" cy="433.0" r="4.9"/>
<circle cx="123.3" cy="389.3" r="4.9"/>
<circle cx="121.6" cy="402.2" r="4.9"/>
<circle cx="134.1" cy="362.2" r="4.9"/>
<circle cx="118.0" cy="342.0" r="4.9"/>
<circle cx="129.9" cy="317.0" r="4.9"/>
<circle cx="128.3" cy="336.9" r="4.9"/>
<circle cx="116.9" cy="376.9" r="4.9"/>
<circle cx="126.8" cy="370.4" r="4.9"/>
<circle cx="133.6" cy="370.6" r="4.9"/>
<circle cx="130.9" cy="290.0" r="4.9"/>
<circle cx="111.1" cy="434.8" r="4.9"/>
<circle cx="132.3" cy="342.8" r="4.9"/>
<circle cx="127.2" cy="349.8" r="4.9"/>
<circle cx="118.5" cy="344.0" r="4.9"/>
<circle cx="112.3" cy="391.2" r="4.9"/>
<circle cx="133.6" cy="421.8" r="4.9"/>
<circle cx="130.3" cy="373.1" r="4.9"/>
<circle cx="113.7" cy="418.8" r="4.9"/>
<circle cx="127.1" cy="366.1" r="4.9"/>
<circle cx="123.1" cy="411.1" r="4.9"/>
<circle cx="123.9" cy="433.4" r="4.9"/>
<circle cx="133.7" cy="363.9" r="4.9"/>
<circle cx="110.6" cy="402.3" r="4.9"/>
<circle cx="123.6" cy="331.4" r="4.9"/>
<circle cx="129.9" cy="375.1" r="4.9"/>
<circle cx="130.0" cy="409.1" r="4.9"/>
<circle cx="119.9" cy="393.7" r="4.9"/>
<circle cx="126.6" cy="393.6" r="4.9"/>
<circle cx="123.7" cy="337.4" r="4.9"/>
<circle cx="129.7" cy="413.5" r="4.9"/>
<circle cx="129.6" cy="325.6" r="4.9"/>
<circle cx="132.0" cy="352.2" r="4.9"/>
<circle cx="133.0" cy="394.1" r="4.9"/>
<circle cx="122.1" cy="438.8" r="4.9"/>
<circle cx="129.3" cy="379.6" r="4.9"/>
<circle cx="120.6" cy="351.9" r="4.9"/>
<circle cx="134.8" cy="421.2" r="4.9"/>
<circle cx="135.9" cy="368.2" r="4.9"/>
<circle cx="117.0" cy="389.4" r="4.9"/>
<circle cx="135.6" cy="431.5" r="4.9"/>
<circle cx="133.8" cy="332.8" r="4.9"/>
<circle cx="119.6" cy="351.2" r="4.9"/>
<circle cx="117.7" cy="339.7" r="4.9"/>
<circle cx="106.8" cy="394.3" r="4.9"/>
<circle cx="121.5" cy="355.8" r="4.9"/>
<circle cx="107.6" cy="400.7" r="4.9"/>
<circle cx="121.6" cy="414.9" r="4.9"/>
<circle cx="111.5" cy="437.1" r="4.9"/>
<circle cx="132.2" cy="416.2" r="4.9"/>
<circle cx="109.7" cy="430.3" r="4.9"/>
<circle cx="121.8" cy="318.7" r="4.9"/>
<circle cx="121.5" cy="354.9" r="4.9"/>
<circle cx="127.2" cy="381.9" r="4.9"/>
<circle cx="128.5" cy="357.9" r="4.9"/>
<circle cx="134.8" cy="420.2" r="4.9"/>
<circle cx="132.6" cy="327.5" r="4.9"/>
<circle cx="125.3" cy="400.3" r="4.9"/>
<circle cx="127.8" cy="405.1" r="4.9"/>
<circle cx="126.7" cy="375.3" r="4.9"/>
<circle cx="109.5" cy="403.8" r="4.9"/>
<circle cx="134.0" cy="417.7" r="4.9"/>
<circle cx="136.0" cy="354.8" r="4.9"/>
<circle cx="132.6" cy="301.6" r="4.9"/>
<circle cx="107.1" cy="430.1" r="4.9"/>
<circle cx="135.8" cy="361.4" r="4.9"/>
<circle cx="123.0" cy="439.4" r="4.9"/>
<circle cx="130.4" cy="290.5" r="4.9"/>
<circle cx="111.7" cy="386.5" r="4.9"/>
<circle cx="119.0" cy="439.5" r="4.9"/>
<circle cx="119.6" cy="415.8" r="4.9"/>
<circle cx="115.5" cy="372.2" r="4.9"/>
<circle cx="124.3" cy="316.6" r="4.9"/>
<circle cx="133.7" cy="303.2" r="4.9"/>
<circle cx="127.1" cy="365.1" r="4.9"/>
<circle cx="134.1" cy="377.8" r="4.9"/>
<circle cx="126.2" cy="343.2" r="4.9"/>
<circle cx="120.2" cy="400.3" r="4.9"/>
<circle cx="134.7" cy="391.0" r="4.9"/>
<circle cx="130.1" cy="337.2" r="4.9"/>
<circle cx="126.3" cy="327.9" r="4.9"/>
<circle cx="108.9" cy="424.6" r="4.9"/>
<circle cx="127.4" cy="340.7" r="4.9"/>
<circle cx="108.9" cy="423.1" r="4.9"/>
<circle cx="129.5" cy="399.2" r="4.9"/>
<circle cx="130.0" cy="298.5" r="4.9"/>
<circle cx="135.8" cy="419.8" r="4.9"/>
<circle cx="125.8" cy="359.8" r="4.9"/>
<circle cx="108.8" cy="399.9" r="4.9"/>
<circle cx="135.7" cy="340.6" r="4.9"/>
<circle cx="121.7" cy="326.8" r="4.9"/>
<circle cx="111.9" cy="403.6" r="4.9"/>
<circle cx="122.1" cy="414.7" r="4.9"/>
<circle cx="117.1" cy="344.2" r="4.9"/>
<circle cx="119.8" cy="396.6" r="4.9"/>
<circle cx="128.2" cy="306.5" r="4.9"/>
<circle cx="117.3" cy="408.9" r="4.9"/>
<circle cx="116.2" cy="437.0" r="4.9"/>
<circle cx="122.8" cy="390.3" r="4.9"/>
</g>
<g clip-path="url(#clipB)" fill="#3555a5" fill-opacity="0.86">
<circle cx="152.6" cy="258.0" r="4.9"/>
<circle cx="154.2" cy="258.0" r="4.9"/>
<circle cx="155.7" cy="258.0" r="4.9"/>
<circle cx="157.3" cy="258.0" r="4.9"/>
<circle cx="158.9" cy="258.0" r="4.9"/>
<circle cx="160.4" cy="258.0" r="4.9"/>
<circle cx="162.0" cy="258.0" r="4.9"/>
<circle cx="163.6" cy="258.0" r="4.9"/>
<circle cx="165.2" cy="258.0" r="4.9"/>
<circle cx="166.7" cy="258.0" r="4.9"/>
<circle cx="168.3" cy="258.0" r="4.9"/>
<circle cx="169.9" cy="258.0" r="4.9"/>
<circle cx="171.4" cy="258.0" r="4.9"/>
<circle cx="173.0" cy="258.0" r="4.9"/>
<circle cx="182.0" cy="258.0" r="4.9"/>
<circle cx="150.0" cy="300.0" r="4.9"/>
<circle cx="153.5" cy="305.0" r="4.9"/>
<circle cx="160.0" cy="303.0" r="4.9"/>
<circle cx="165.0" cy="306.0" r="4.9"/>
<circle cx="150.5" cy="316.0" r="4.9"/>
<circle cx="158.0" cy="320.0" r="4.9"/>
<circle cx="163.0" cy="322.0" r="4.9"/>
<circle cx="170.0" cy="320.0" r="4.9"/>
<circle cx="149.5" cy="290.0" r="4.9"/>
<circle cx="156.0" cy="287.0" r="4.9"/>
<circle cx="152.8" cy="266.8" r="4.9"/>
<circle cx="157.5" cy="269.2" r="4.9"/>
<circle cx="166.3" cy="270.4" r="4.9"/>
<circle cx="155.2" cy="275.0" r="4.9"/>
<circle cx="162.8" cy="274.4" r="4.9"/>
<circle cx="168.0" cy="281.4" r="4.9"/>
<circle cx="154.0" cy="283.8" r="4.9"/>
<circle cx="159.3" cy="292.5" r="4.9"/>
<circle cx="166.3" cy="294.3" r="4.9"/>
<circle cx="163.4" cy="298.4" r="4.9"/>
<circle cx="182.0" cy="297.8" r="4.9"/>
<circle cx="155.8" cy="307.1" r="4.9"/>
<circle cx="171.5" cy="309.5" r="4.9"/>
<circle cx="155.2" cy="312.4" r="4.9"/>
<circle cx="167.4" cy="315.3" r="4.9"/>
<circle cx="155.2" cy="324.0" r="4.9"/>
<circle cx="166.9" cy="325.2" r="4.9"/>
<circle cx="171.5" cy="329.9" r="4.9"/>
<circle cx="149.9" cy="266.6" r="4.9"/>
<circle cx="158.2" cy="301.3" r="4.9"/>
<circle cx="163.7" cy="315.2" r="4.9"/>
<circle cx="169.3" cy="316.6" r="4.9"/>
<circle cx="152.6" cy="323.5" r="4.9"/>
<circle cx="161.0" cy="330.4" r="4.9"/>
<circle cx="193.7" cy="344.6" r="4.9"/>
<circle cx="178.0" cy="352.2" r="4.9"/>
<circle cx="187.3" cy="352.2" r="4.9"/>
<circle cx="181.5" cy="357.4" r="4.9"/>
<circle cx="189.0" cy="361.0" r="4.9"/>
<circle cx="178.5" cy="367.4" r="4.9"/>
<circle cx="192.6" cy="372.6" r="4.9"/>
<circle cx="173.9" cy="383.1" r="4.9"/>
<circle cx="187.3" cy="384.3" r="4.9"/>
<circle cx="173.9" cy="397.7" r="4.9"/>
<circle cx="178.5" cy="400.7" r="4.9"/>
<circle cx="185.0" cy="405.9" r="4.9"/>
<circle cx="186.7" cy="409.2" r="4.9"/>
<circle cx="188.5" cy="417.4" r="4.9"/>
<circle cx="189.0" cy="423.8" r="4.9"/>
<circle cx="179.7" cy="415.0" r="4.9"/>
<circle cx="180.9" cy="420.9" r="4.9"/>
<circle cx="175.0" cy="429.0" r="4.9"/>
<circle cx="176.0" cy="338.0" r="4.9"/>
<circle cx="174.0" cy="345.0" r="4.9"/>
<circle cx="161.7" cy="342.8" r="4.9"/>
<circle cx="165.7" cy="381.0" r="4.9"/>
<circle cx="165.7" cy="409.6" r="4.9"/>
<circle cx="156.0" cy="414.0" r="4.9"/>
<circle cx="160.1" cy="433.0" r="4.9"/>
<circle cx="166.3" cy="351.4" r="4.9"/>
<circle cx="157.7" cy="380.7" r="4.9"/>
<circle cx="164.2" cy="417.3" r="4.9"/>
<circle cx="172.0" cy="405.2" r="4.9"/>
<circle cx="166.2" cy="347.1" r="4.9"/>
<circle cx="158.2" cy="368.5" r="4.9"/>
<circle cx="161.2" cy="368.0" r="4.9"/>
<circle cx="160.0" cy="377.5" r="4.9"/>
<circle cx="166.8" cy="363.5" r="4.9"/>
<circle cx="155.2" cy="382.8" r="4.9"/>
<circle cx="166.9" cy="434.4" r="4.9"/>
<circle cx="156.2" cy="373.1" r="4.9"/>
<circle cx="172.2" cy="420.6" r="4.9"/>
<circle cx="153.5" cy="410.0" r="4.9"/>
<circle cx="169.8" cy="426.0" r="4.9"/>
<circle cx="170.7" cy="410.7" r="4.9"/>
<circle cx="156.3" cy="383.3" r="4.9"/>
<circle cx="165.9" cy="379.2" r="4.9"/>
<circle cx="154.3" cy="390.7" r="4.9"/>
<circle cx="153.6" cy="326.4" r="4.9"/>
<circle cx="159.4" cy="436.3" r="4.9"/>
<circle cx="159.0" cy="386.1" r="4.9"/>
<circle cx="158.0" cy="373.4" r="4.9"/>
<circle cx="169.5" cy="403.6" r="4.9"/>
<circle cx="153.9" cy="338.4" r="4.9"/>
<circle cx="159.1" cy="379.5" r="4.9"/>
<circle cx="161.2" cy="341.7" r="4.9"/>
<circle cx="159.3" cy="373.9" r="4.9"/>
<circle cx="157.3" cy="354.0" r="4.9"/>
<circle cx="158.1" cy="366.7" r="4.9"/>
<circle cx="168.2" cy="410.3" r="4.9"/>
<circle cx="164.5" cy="344.3" r="4.9"/>
<circle cx="165.6" cy="360.9" r="4.9"/>
<circle cx="157.6" cy="346.9" r="4.9"/>
<circle cx="167.3" cy="439.8" r="4.9"/>
<circle cx="162.0" cy="378.9" r="4.9"/>
<circle cx="163.5" cy="433.9" r="4.9"/>
<circle cx="153.5" cy="391.8" r="4.9"/>
<circle cx="156.0" cy="372.5" r="4.9"/>
<circle cx="167.6" cy="399.7" r="4.9"/>
<circle cx="158.2" cy="435.8" r="4.9"/>
<circle cx="153.4" cy="379.8" r="4.9"/>
<circle cx="159.3" cy="369.0" r="4.9"/>
<circle cx="165.3" cy="356.0" r="4.9"/>
<circle cx="155.1" cy="388.0" r="4.9"/>
<circle cx="166.7" cy="415.7" r="4.9"/>
<circle cx="161.4" cy="368.1" r="4.9"/>
<circle cx="166.6" cy="367.2" r="4.9"/>
<circle cx="153.0" cy="357.8" r="4.9"/>
<circle cx="164.4" cy="437.6" r="4.9"/>
<circle cx="156.2" cy="384.2" r="4.9"/>
<circle cx="159.1" cy="347.8" r="4.9"/>
<circle cx="153.2" cy="384.5" r="4.9"/>
<circle cx="170.6" cy="398.8" r="4.9"/>
<circle cx="156.2" cy="355.7" r="4.9"/>
<circle cx="161.8" cy="432.8" r="4.9"/>
<circle cx="153.9" cy="395.3" r="4.9"/>
<circle cx="168.4" cy="398.5" r="4.9"/>
<circle cx="166.7" cy="359.1" r="4.9"/>
<circle cx="158.1" cy="422.0" r="4.9"/>
<circle cx="172.7" cy="425.9" r="4.9"/>
<circle cx="157.5" cy="392.7" r="4.9"/>
<circle cx="160.3" cy="387.3" r="4.9"/>
<circle cx="156.4" cy="362.8" r="4.9"/>
<circle cx="156.5" cy="394.2" r="4.9"/>
<circle cx="161.5" cy="331.6" r="4.9"/>
<circle cx="169.9" cy="406.9" r="4.9"/>
<circle cx="167.6" cy="325.0" r="4.9"/>
<circle cx="153.2" cy="343.9" r="4.9"/>
<circle cx="161.8" cy="429.8" r="4.9"/>
<circle cx="161.1" cy="405.7" r="4.9"/>
<circle cx="153.7" cy="424.1" r="4.9"/>
<circle cx="153.2" cy="416.2" r="4.9"/>
<circle cx="166.0" cy="396.8" r="4.9"/>
<circle cx="153.9" cy="361.5" r="4.9"/>
<circle cx="168.7" cy="405.2" r="4.9"/>
<circle cx="153.3" cy="355.0" r="4.9"/>
<circle cx="158.5" cy="360.4" r="4.9"/>
<circle cx="162.0" cy="366.9" r="4.9"/>
<circle cx="157.2" cy="370.6" r="4.9"/>
<circle cx="153.5" cy="328.4" r="4.9"/>
<circle cx="162.2" cy="394.2" r="4.9"/>
<circle cx="161.5" cy="428.6" r="4.9"/>
<circle cx="164.0" cy="346.4" r="4.9"/>
<circle cx="165.5" cy="329.0" r="4.9"/>
<circle cx="159.3" cy="429.2" r="4.9"/>
<circle cx="167.2" cy="433.8" r="4.9"/>
<circle cx="156.2" cy="344.3" r="4.9"/>
<circle cx="165.4" cy="328.6" r="4.9"/>
<circle cx="163.9" cy="434.8" r="4.9"/>
<circle cx="171.3" cy="429.5" r="4.9"/>
<circle cx="154.0" cy="359.1" r="4.9"/>
<circle cx="163.0" cy="349.8" r="4.9"/>
<circle cx="154.5" cy="389.7" r="4.9"/>
<circle cx="154.2" cy="401.6" r="4.9"/>
<circle cx="165.2" cy="377.4" r="4.9"/>
<circle cx="159.5" cy="342.2" r="4.9"/>
<circle cx="161.7" cy="370.9" r="4.9"/>
<circle cx="154.3" cy="369.5" r="4.9"/>
<circle cx="169.1" cy="409.3" r="4.9"/>
<circle cx="167.0" cy="365.8" r="4.9"/>
<circle cx="165.7" cy="390.0" r="4.9"/>
<circle cx="164.2" cy="337.1" r="4.9"/>
<circle cx="165.0" cy="378.3" r="4.9"/>
<circle cx="155.5" cy="420.0" r="4.9"/>
<circle cx="160.4" cy="331.8" r="4.9"/>
<circle cx="154.0" cy="343.5" r="4.9"/>
<circle cx="163.3" cy="438.4" r="4.9"/>
<circle cx="157.7" cy="328.1" r="4.9"/>
<circle cx="164.8" cy="367.4" r="4.9"/>
<circle cx="165.1" cy="372.1" r="4.9"/>
<circle cx="157.9" cy="380.5" r="4.9"/>
<circle cx="165.7" cy="391.2" r="4.9"/>
<circle cx="172.5" cy="424.6" r="4.9"/>
<circle cx="157.9" cy="380.2" r="4.9"/>
<circle cx="166.9" cy="359.2" r="4.9"/>
<circle cx="160.4" cy="365.0" r="4.9"/>
<circle cx="161.9" cy="353.5" r="4.9"/>
<circle cx="172.9" cy="438.6" r="4.9"/>
<circle cx="162.6" cy="421.7" r="4.9"/>
<circle cx="158.2" cy="358.8" r="4.9"/>
<circle cx="166.5" cy="366.0" r="4.9"/>
<circle cx="163.8" cy="369.5" r="4.9"/>
<circle cx="163.1" cy="345.7" r="4.9"/>
<circle cx="153.4" cy="336.2" r="4.9"/>
<circle cx="166.7" cy="368.7" r="4.9"/>
<circle cx="165.5" cy="369.2" r="4.9"/>
<circle cx="153.7" cy="408.0" r="4.9"/>
<circle cx="170.4" cy="419.8" r="4.9"/>
<circle cx="160.5" cy="377.7" r="4.9"/>
<circle cx="159.1" cy="409.1" r="4.9"/>
<circle cx="159.6" cy="354.4" r="4.9"/>
<circle cx="156.2" cy="366.8" r="4.9"/>
<circle cx="161.7" cy="343.5" r="4.9"/>
<circle cx="165.0" cy="438.4" r="4.9"/>
<circle cx="163.3" cy="366.9" r="4.9"/>
<circle cx="154.4" cy="388.3" r="4.9"/>
<circle cx="162.0" cy="404.3" r="4.9"/>
<circle cx="153.1" cy="434.5" r="4.9"/>
<circle cx="160.0" cy="409.6" r="4.9"/>
<circle cx="160.8" cy="333.8" r="4.9"/>
<circle cx="158.0" cy="365.2" r="4.9"/>
<circle cx="165.3" cy="353.0" r="4.9"/>
<circle cx="161.2" cy="400.0" r="4.9"/>
<circle cx="167.9" cy="400.1" r="4.9"/>
<circle cx="165.1" cy="341.2" r="4.9"/>
<circle cx="164.9" cy="389.3" r="4.9"/>
<circle cx="167.5" cy="329.3" r="4.9"/>
<circle cx="155.5" cy="339.3" r="4.9"/>
<circle cx="153.4" cy="424.8" r="4.9"/>
<circle cx="172.5" cy="422.9" r="4.9"/>
<circle cx="160.2" cy="335.8" r="4.9"/>
<circle cx="157.4" cy="400.3" r="4.9"/>
<circle cx="172.1" cy="415.3" r="4.9"/>
<circle cx="170.6" cy="411.2" r="4.9"/>
<circle cx="161.1" cy="370.4" r="4.9"/>
<circle cx="164.4" cy="389.5" r="4.9"/>
<circle cx="163.9" cy="368.2" r="4.9"/>
<circle cx="158.0" cy="411.6" r="4.9"/>
<circle cx="160.4" cy="338.1" r="4.9"/>
<circle cx="166.5" cy="410.9" r="4.9"/>
<circle cx="161.1" cy="377.8" r="4.9"/>
<circle cx="162.7" cy="341.7" r="4.9"/>
<circle cx="154.6" cy="426.4" r="4.9"/>
<circle cx="153.9" cy="375.6" r="4.9"/>
<circle cx="167.5" cy="328.2" r="4.9"/>
<circle cx="157.1" cy="336.8" r="4.9"/>
<circle cx="153.6" cy="358.9" r="4.9"/>
<circle cx="164.6" cy="392.7" r="4.9"/>
<circle cx="157.4" cy="354.6" r="4.9"/>
<circle cx="154.1" cy="387.2" r="4.9"/>
<circle cx="159.0" cy="403.2" r="4.9"/>
<circle cx="171.9" cy="408.8" r="4.9"/>
<circle cx="162.6" cy="345.8" r="4.9"/>
<circle cx="162.0" cy="366.4" r="4.9"/>
<circle cx="170.4" cy="438.7" r="4.9"/>
<circle cx="157.3" cy="379.0" r="4.9"/>
<circle cx="169.3" cy="408.2" r="4.9"/>
<circle cx="163.1" cy="379.9" r="4.9"/>
<circle cx="164.1" cy="362.1" r="4.9"/>
<circle cx="156.9" cy="381.7" r="4.9"/>
<circle cx="153.8" cy="380.3" r="4.9"/>
<circle cx="161.0" cy="346.0" r="4.9"/>
<circle cx="165.6" cy="424.4" r="4.9"/>
<circle cx="161.4" cy="407.6" r="4.9"/>
<circle cx="153.6" cy="373.7" r="4.9"/>
<circle cx="164.3" cy="360.9" r="4.9"/>
<circle cx="157.9" cy="328.7" r="4.9"/>
<circle cx="163.1" cy="418.0" r="4.9"/>
<circle cx="159.4" cy="390.3" r="4.9"/>
<circle cx="164.5" cy="424.0" r="4.9"/>
<circle cx="166.6" cy="398.8" r="4.9"/>
<circle cx="165.1" cy="369.0" r="4.9"/>
<circle cx="156.5" cy="357.7" r="4.9"/>
<circle cx="161.4" cy="417.6" r="4.9"/>
<circle cx="156.0" cy="410.0" r="4.9"/>
<circle cx="156.2" cy="426.3" r="4.9"/>
<circle cx="157.2" cy="381.6" r="4.9"/>
<circle cx="154.2" cy="381.8" r="4.9"/>
<circle cx="164.3" cy="346.5" r="4.9"/>
<circle cx="153.5" cy="398.8" r="4.9"/>
<circle cx="163.6" cy="437.7" r="4.9"/>
<circle cx="153.9" cy="412.6" r="4.9"/>
<circle cx="158.4" cy="334.5" r="4.9"/>
<circle cx="162.1" cy="346.9" r="4.9"/>
<circle cx="158.5" cy="377.7" r="4.9"/>
<circle cx="167.1" cy="336.6" r="4.9"/>
<circle cx="153.1" cy="395.3" r="4.9"/>
<circle cx="156.6" cy="375.9" r="4.9"/>
<circle cx="155.4" cy="352.9" r="4.9"/>
<circle cx="169.3" cy="397.6" r="4.9"/>
<circle cx="161.8" cy="394.1" r="4.9"/>
<circle cx="157.6" cy="402.7" r="4.9"/>
<circle cx="168.0" cy="403.1" r="4.9"/>
<circle cx="164.5" cy="369.5" r="4.9"/>
<circle cx="157.2" cy="331.7" r="4.9"/>
<circle cx="164.7" cy="334.7" r="4.9"/>
<circle cx="156.8" cy="416.9" r="4.9"/>
<circle cx="158.5" cy="360.1" r="4.9"/>
<circle cx="161.2" cy="393.7" r="4.9"/>
<circle cx="168.1" cy="401.5" r="4.9"/>
<circle cx="169.5" cy="435.4" r="4.9"/>
<circle cx="169.5" cy="403.4" r="4.9"/>
<circle cx="165.7" cy="343.5" r="4.9"/>
<circle cx="155.0" cy="421.4" r="4.9"/>
<circle cx="166.1" cy="358.7" r="4.9"/>
<circle cx="153.1" cy="406.2" r="4.9"/>
<circle cx="162.5" cy="334.3" r="4.9"/>
<circle cx="162.6" cy="393.7" r="4.9"/>
<circle cx="163.6" cy="399.4" r="4.9"/>
<circle cx="168.1" cy="404.8" r="4.9"/>
<circle cx="154.7" cy="338.5" r="4.9"/>
<circle cx="158.3" cy="383.2" r="4.9"/>
<circle cx="162.6" cy="396.1" r="4.9"/>
<circle cx="166.2" cy="373.1" r="4.9"/>
<circle cx="170.5" cy="438.9" r="4.9"/>
<circle cx="162.5" cy="436.4" r="4.9"/>
<circle cx="158.8" cy="438.1" r="4.9"/>
<circle cx="153.2" cy="426.3" r="4.9"/>
<circle cx="164.4" cy="401.7" r="4.9"/>
<circle cx="155.2" cy="421.9" r="4.9"/>
<circle cx="170.2" cy="409.6" r="4.9"/>
<circle cx="161.3" cy="393.5" r="4.9"/>
<circle cx="160.0" cy="411.5" r="4.9"/>
<circle cx="166.7" cy="402.1" r="4.9"/>
<circle cx="172.2" cy="406.6" r="4.9"/>
<circle cx="155.7" cy="383.3" r="4.9"/>
<circle cx="162.9" cy="364.5" r="4.9"/>
<circle cx="160.3" cy="408.0" r="4.9"/>
<circle cx="153.7" cy="374.0" r="4.9"/>
<circle cx="162.5" cy="353.9" r="4.9"/>
<circle cx="157.5" cy="406.9" r="4.9"/>
<circle cx="162.8" cy="355.6" r="4.9"/>
<circle cx="157.7" cy="345.5" r="4.9"/>
<circle cx="163.0" cy="415.0" r="4.9"/>
<circle cx="153.8" cy="386.6" r="4.9"/>
<circle cx="164.7" cy="364.5" r="4.9"/>
<circle cx="172.9" cy="433.3" r="4.9"/>
<circle cx="164.1" cy="382.5" r="4.9"/>
<circle cx="154.1" cy="331.3" r="4.9"/>
<circle cx="168.0" cy="394.6" r="4.9"/>
<circle cx="153.1" cy="438.5" r="4.9"/>
<circle cx="172.7" cy="430.2" r="4.9"/>
<circle cx="165.2" cy="388.1" r="4.9"/>
<circle cx="157.9" cy="380.1" r="4.9"/>
<circle cx="162.7" cy="338.7" r="4.9"/>
<circle cx="156.1" cy="389.5" r="4.9"/>
<circle cx="163.1" cy="354.1" r="4.9"/>
<circle cx="164.5" cy="370.9" r="4.9"/>
<circle cx="164.2" cy="420.0" r="4.9"/>
<circle cx="154.0" cy="369.5" r="4.9"/>
<circle cx="153.7" cy="377.0" r="4.9"/>
<circle cx="167.3" cy="332.8" r="4.9"/>
<circle cx="165.0" cy="423.3" r="4.9"/>
<circle cx="157.4" cy="379.9" r="4.9"/>
<circle cx="160.6" cy="381.1" r="4.9"/>
<circle cx="158.5" cy="352.5" r="4.9"/>
<circle cx="158.8" cy="330.8" r="4.9"/>
<circle cx="161.5" cy="430.5" r="4.9"/>
<circle cx="153.4" cy="400.6" r="4.9"/>
<circle cx="160.1" cy="372.7" r="4.9"/>
<circle cx="154.8" cy="396.3" r="4.9"/>
<circle cx="162.4" cy="404.9" r="4.9"/>
<circle cx="160.6" cy="409.5" r="4.9"/>
<circle cx="162.3" cy="376.9" r="4.9"/>
<circle cx="165.2" cy="337.8" r="4.9"/>
<circle cx="167.9" cy="428.8" r="4.9"/>
<circle cx="153.3" cy="420.5" r="4.9"/>
<circle cx="167.1" cy="415.9" r="4.9"/>
<circle cx="164.8" cy="424.8" r="4.9"/>
<circle cx="171.4" cy="429.6" r="4.9"/>
<circle cx="156.8" cy="395.6" r="4.9"/>
<circle cx="157.9" cy="425.3" r="4.9"/>
<circle cx="162.3" cy="352.3" r="4.9"/>
</g>
<g clip-path="url(#clipB)">
<line x1="136.00" y1="258.00" x2="136.00" y2="449.00" stroke="#000" stroke-width="1.8" stroke-dasharray="7 7.6" stroke-dashoffset="6.3"/>
<line x1="152.60" y1="258.00" x2="152.60" y2="449.00" stroke="#000" stroke-width="1.8" stroke-dasharray="7 7.6" stroke-dashoffset="6.3"/>
</g>
<line x1="53.50" y1="258.40" x2="53.50" y2="449.40" stroke="#333" stroke-width="1.1" />
<line x1="53.00" y1="448.90" x2="234.50" y2="448.90" stroke="#333" stroke-width="1.1" />
<line x1="51.00" y1="317.00" x2="53.50" y2="317.00" stroke="#333" stroke-width="1" />
<text x="48.6" y="321.3" font-size="12.3" fill="#4d4d4d" text-anchor="end" >10</text>
<line x1="51.00" y1="387.50" x2="53.50" y2="387.50" stroke="#333" stroke-width="1" />
<text x="48.6" y="391.8" font-size="12.3" fill="#4d4d4d" text-anchor="end" >5</text>
<line x1="61.40" y1="448.90" x2="61.40" y2="451.50" stroke="#333" stroke-width="1" />
<text x="61.4" y="462.2" font-size="12.8" fill="#4d4d4d" text-anchor="middle" >-1.0</text>
<line x1="102.80" y1="448.90" x2="102.80" y2="451.50" stroke="#333" stroke-width="1" />
<text x="102.8" y="462.2" font-size="12.8" fill="#4d4d4d" text-anchor="middle" >-0.5</text>
<line x1="144.20" y1="448.90" x2="144.20" y2="451.50" stroke="#333" stroke-width="1" />
<text x="144.2" y="462.2" font-size="12.8" fill="#4d4d4d" text-anchor="middle" >0.0</text>
<line x1="185.60" y1="448.90" x2="185.60" y2="451.50" stroke="#333" stroke-width="1" />
<text x="185.6" y="462.2" font-size="12.8" fill="#4d4d4d" text-anchor="middle" >0.5</text>
<line x1="227.00" y1="448.90" x2="227.00" y2="451.50" stroke="#333" stroke-width="1" />
<text x="227.0" y="462.2" font-size="12.8" fill="#4d4d4d" text-anchor="middle" >1.0</text>
<text x="145.7" y="478.5" font-size="12.45" fill="#1a1a1a" text-anchor="middle" >ΔPSI(Snord67KO-1 - 4T1)</text>
<text transform="translate(26.3,353.7) rotate(-90)" font-size="13.6" fill="#1a1a1a" text-anchor="middle">−log<tspan font-size="10" dy="3">10</tspan><tspan dy="-3">(FDR)</tspan></text>
<text x="58.8" y="514.8" font-size="16" fill="#000" text-anchor="start" >Snord67KO-2 vs. 4T1</text>
<g clip-path="url(#clipC)" fill="#e8202f" fill-opacity="0.74">
<circle cx="104.0" cy="524.0" r="4.9"/>
<circle cx="105.5" cy="524.0" r="4.9"/>
<circle cx="107.0" cy="524.0" r="4.9"/>
<circle cx="108.6" cy="524.0" r="4.9"/>
<circle cx="110.1" cy="524.0" r="4.9"/>
<circle cx="111.6" cy="524.0" r="4.9"/>
<circle cx="113.1" cy="524.0" r="4.9"/>
<circle cx="114.7" cy="524.0" r="4.9"/>
<circle cx="116.2" cy="524.0" r="4.9"/>
<circle cx="117.7" cy="524.0" r="4.9"/>
<circle cx="119.2" cy="524.0" r="4.9"/>
<circle cx="120.8" cy="524.0" r="4.9"/>
<circle cx="122.3" cy="524.0" r="4.9"/>
<circle cx="123.8" cy="524.0" r="4.9"/>
<circle cx="125.3" cy="524.0" r="4.9"/>
<circle cx="126.9" cy="524.0" r="4.9"/>
<circle cx="128.4" cy="524.0" r="4.9"/>
<circle cx="129.9" cy="524.0" r="4.9"/>
<circle cx="131.4" cy="524.0" r="4.9"/>
<circle cx="133.0" cy="524.0" r="4.9"/>
<circle cx="134.5" cy="524.0" r="4.9"/>
<circle cx="136.0" cy="524.0" r="4.9"/>
<circle cx="118.1" cy="558.8" r="4.9"/>
<circle cx="124.0" cy="557.6" r="4.9"/>
<circle cx="134.5" cy="557.6" r="4.9"/>
<circle cx="119.3" cy="565.2" r="4.9"/>
<circle cx="128.7" cy="567.0" r="4.9"/>
<circle cx="136.9" cy="560.5" r="4.9"/>
<circle cx="118.7" cy="577.5" r="4.9"/>
<circle cx="120.5" cy="596.8" r="4.9"/>
<circle cx="126.3" cy="603.3" r="4.9"/>
<circle cx="111.1" cy="613.8" r="4.9"/>
<circle cx="108.8" cy="545.3" r="4.9"/>
<circle cx="122.8" cy="544.1" r="4.9"/>
<circle cx="135.1" cy="541.2" r="4.9"/>
<circle cx="103.9" cy="525.8" r="4.9"/>
<circle cx="120.2" cy="531.7" r="4.9"/>
<circle cx="129.6" cy="531.7" r="4.9"/>
<circle cx="125.5" cy="566.7" r="4.9"/>
<circle cx="133.6" cy="567.9" r="4.9"/>
<circle cx="128.4" cy="578.4" r="4.9"/>
<circle cx="129.6" cy="584.2" r="4.9"/>
<circle cx="130.7" cy="592.4" r="4.9"/>
<circle cx="134.8" cy="594.7" r="4.9"/>
<circle cx="132.0" cy="575.0" r="4.9"/>
<circle cx="135.0" cy="585.0" r="4.9"/>
<circle cx="121.0" cy="571.0" r="4.9"/>
<circle cx="127.0" cy="561.0" r="4.9"/>
<circle cx="131.0" cy="562.0" r="4.9"/>
<circle cx="126.0" cy="590.0" r="4.9"/>
<circle cx="105.4" cy="644.6" r="4.9"/>
<circle cx="100.3" cy="657.9" r="4.9"/>
<circle cx="94.6" cy="671.3" r="4.9"/>
<circle cx="92.1" cy="687.8" r="4.9"/>
<circle cx="103.0" cy="652.0" r="4.9"/>
<circle cx="108.0" cy="650.0" r="4.9"/>
<circle cx="112.0" cy="655.0" r="4.9"/>
<circle cx="117.0" cy="632.0" r="4.9"/>
<circle cx="114.0" cy="636.0" r="4.9"/>
<circle cx="115.1" cy="690.1" r="4.9"/>
<circle cx="135.5" cy="668.0" r="4.9"/>
<circle cx="106.9" cy="647.4" r="4.9"/>
<circle cx="126.6" cy="630.3" r="4.9"/>
<circle cx="120.1" cy="661.3" r="4.9"/>
<circle cx="134.7" cy="688.5" r="4.9"/>
<circle cx="131.7" cy="704.7" r="4.9"/>
<circle cx="135.6" cy="683.4" r="4.9"/>
<circle cx="133.0" cy="611.1" r="4.9"/>
<circle cx="121.5" cy="686.9" r="4.9"/>
<circle cx="129.9" cy="593.3" r="4.9"/>
<circle cx="107.5" cy="647.8" r="4.9"/>
<circle cx="114.7" cy="682.1" r="4.9"/>
<circle cx="119.7" cy="630.5" r="4.9"/>
<circle cx="125.7" cy="620.9" r="4.9"/>
<circle cx="123.0" cy="637.4" r="4.9"/>
<circle cx="121.5" cy="654.2" r="4.9"/>
<circle cx="135.5" cy="596.6" r="4.9"/>
<circle cx="134.7" cy="681.6" r="4.9"/>
<circle cx="131.5" cy="611.0" r="4.9"/>
<circle cx="116.4" cy="686.4" r="4.9"/>
<circle cx="122.2" cy="655.4" r="4.9"/>
<circle cx="127.5" cy="646.9" r="4.9"/>
<circle cx="119.0" cy="704.8" r="4.9"/>
<circle cx="128.8" cy="659.4" r="4.9"/>
<circle cx="103.2" cy="652.5" r="4.9"/>
<circle cx="122.1" cy="677.7" r="4.9"/>
<circle cx="124.0" cy="673.5" r="4.9"/>
<circle cx="122.8" cy="664.6" r="4.9"/>
<circle cx="135.0" cy="640.0" r="4.9"/>
<circle cx="132.8" cy="650.6" r="4.9"/>
<circle cx="130.0" cy="673.8" r="4.9"/>
<circle cx="132.3" cy="623.1" r="4.9"/>
<circle cx="129.3" cy="668.3" r="4.9"/>
<circle cx="134.9" cy="615.9" r="4.9"/>
<circle cx="116.2" cy="683.3" r="4.9"/>
<circle cx="128.3" cy="635.8" r="4.9"/>
<circle cx="128.9" cy="623.4" r="4.9"/>
<circle cx="105.7" cy="649.1" r="4.9"/>
<circle cx="125.5" cy="662.3" r="4.9"/>
<circle cx="118.4" cy="648.6" r="4.9"/>
<circle cx="124.0" cy="632.4" r="4.9"/>
<circle cx="128.0" cy="631.1" r="4.9"/>
<circle cx="119.7" cy="704.6" r="4.9"/>
<circle cx="132.4" cy="617.6" r="4.9"/>
<circle cx="124.6" cy="632.1" r="4.9"/>
<circle cx="124.6" cy="664.3" r="4.9"/>
<circle cx="130.5" cy="642.0" r="4.9"/>
<circle cx="135.5" cy="661.1" r="4.9"/>
<circle cx="134.6" cy="617.5" r="4.9"/>
<circle cx="126.5" cy="640.8" r="4.9"/>
<circle cx="121.5" cy="689.9" r="4.9"/>
<circle cx="127.1" cy="691.1" r="4.9"/>
<circle cx="132.6" cy="616.5" r="4.9"/>
<circle cx="130.9" cy="672.3" r="4.9"/>
<circle cx="135.6" cy="675.7" r="4.9"/>
<circle cx="113.3" cy="685.5" r="4.9"/>
<circle cx="106.1" cy="643.5" r="4.9"/>
<circle cx="121.2" cy="637.7" r="4.9"/>
<circle cx="124.5" cy="679.3" r="4.9"/>
<circle cx="133.3" cy="639.9" r="4.9"/>
<circle cx="106.9" cy="656.4" r="4.9"/>
<circle cx="130.5" cy="704.8" r="4.9"/>
<circle cx="133.5" cy="682.4" r="4.9"/>
<circle cx="135.9" cy="600.8" r="4.9"/>
<circle cx="134.5" cy="700.1" r="4.9"/>
<circle cx="122.7" cy="684.0" r="4.9"/>
<circle cx="131.2" cy="616.7" r="4.9"/>
<circle cx="132.5" cy="611.0" r="4.9"/>
<circle cx="118.6" cy="652.8" r="4.9"/>
<circle cx="131.7" cy="626.1" r="4.9"/>
<circle cx="125.9" cy="628.0" r="4.9"/>
<circle cx="127.7" cy="669.6" r="4.9"/>
<circle cx="124.2" cy="652.2" r="4.9"/>
<circle cx="134.6" cy="636.5" r="4.9"/>
<circle cx="122.3" cy="665.5" r="4.9"/>
<circle cx="131.4" cy="694.7" r="4.9"/>
<circle cx="129.5" cy="668.5" r="4.9"/>
<circle cx="131.5" cy="602.6" r="4.9"/>
<circle cx="132.9" cy="587.0" r="4.9"/>
<circle cx="133.2" cy="681.6" r="4.9"/>
<circle cx="115.3" cy="704.6" r="4.9"/>
<circle cx="124.8" cy="625.3" r="4.9"/>
<circle cx="133.5" cy="640.5" r="4.9"/>
<circle cx="135.7" cy="657.5" r="4.9"/>
<circle cx="119.8" cy="664.6" r="4.9"/>
<circle cx="129.6" cy="575.2" r="4.9"/>
<circle cx="119.9" cy="666.1" r="4.9"/>
<circle cx="136.0" cy="609.0" r="4.9"/>
<circle cx="134.1" cy="659.8" r="4.9"/>
<circle cx="109.7" cy="649.8" r="4.9"/>
<circle cx="135.3" cy="678.7" r="4.9"/>
<circle cx="135.9" cy="594.0" r="4.9"/>
<circle cx="131.6" cy="651.7" r="4.9"/>
<circle cx="106.9" cy="646.5" r="4.9"/>
<circle cx="123.9" cy="632.1" r="4.9"/>
<circle cx="111.9" cy="659.8" r="4.9"/>
<circle cx="131.8" cy="671.8" r="4.9"/>
<circle cx="124.4" cy="626.8" r="4.9"/>
<circle cx="134.6" cy="675.1" r="4.9"/>
<circle cx="122.7" cy="625.1" r="4.9"/>
<circle cx="132.2" cy="672.2" r="4.9"/>
<circle cx="123.6" cy="624.4" r="4.9"/>
<circle cx="131.5" cy="615.5" r="4.9"/>
<circle cx="135.6" cy="685.1" r="4.9"/>
<circle cx="129.2" cy="619.0" r="4.9"/>
<circle cx="119.9" cy="673.4" r="4.9"/>
<circle cx="133.3" cy="622.3" r="4.9"/>
<circle cx="130.5" cy="580.6" r="4.9"/>
<circle cx="116.7" cy="644.5" r="4.9"/>
<circle cx="135.6" cy="582.3" r="4.9"/>
<circle cx="127.7" cy="671.1" r="4.9"/>
<circle cx="121.1" cy="646.1" r="4.9"/>
<circle cx="134.1" cy="653.4" r="4.9"/>
<circle cx="115.9" cy="676.7" r="4.9"/>
<circle cx="118.9" cy="684.1" r="4.9"/>
<circle cx="132.7" cy="625.2" r="4.9"/>
<circle cx="114.2" cy="689.1" r="4.9"/>
<circle cx="115.0" cy="649.4" r="4.9"/>
<circle cx="126.9" cy="667.9" r="4.9"/>
<circle cx="129.3" cy="607.7" r="4.9"/>
<circle cx="130.4" cy="643.9" r="4.9"/>
<circle cx="126.1" cy="636.1" r="4.9"/>
<circle cx="114.3" cy="640.5" r="4.9"/>
<circle cx="118.1" cy="702.7" r="4.9"/>
<circle cx="126.9" cy="666.4" r="4.9"/>
<circle cx="130.2" cy="593.3" r="4.9"/>
<circle cx="105.9" cy="645.1" r="4.9"/>
<circle cx="121.2" cy="626.3" r="4.9"/>
<circle cx="131.5" cy="704.5" r="4.9"/>
<circle cx="109.2" cy="658.6" r="4.9"/>
<circle cx="119.6" cy="631.1" r="4.9"/>
<circle cx="135.4" cy="639.1" r="4.9"/>
<circle cx="122.3" cy="702.1" r="4.9"/>
<circle cx="134.7" cy="572.1" r="4.9"/>
<circle cx="118.4" cy="661.5" r="4.9"/>
<circle cx="113.7" cy="703.7" r="4.9"/>
<circle cx="134.6" cy="638.6" r="4.9"/>
<circle cx="120.9" cy="672.6" r="4.9"/>
<circle cx="117.6" cy="699.0" r="4.9"/>
<circle cx="122.5" cy="631.1" r="4.9"/>
<circle cx="129.3" cy="615.8" r="4.9"/>
<circle cx="111.8" cy="654.7" r="4.9"/>
<circle cx="130.8" cy="649.9" r="4.9"/>
<circle cx="132.4" cy="631.9" r="4.9"/>
<circle cx="117.6" cy="671.1" r="4.9"/>
<circle cx="135.6" cy="670.7" r="4.9"/>
<circle cx="121.9" cy="692.4" r="4.9"/>
<circle cx="120.8" cy="627.1" r="4.9"/>
<circle cx="132.5" cy="664.9" r="4.9"/>
<circle cx="132.3" cy="651.2" r="4.9"/>
<circle cx="132.8" cy="699.5" r="4.9"/>
<circle cx="124.9" cy="678.9" r="4.9"/>
<circle cx="134.3" cy="676.2" r="4.9"/>
<circle cx="119.9" cy="632.3" r="4.9"/>
<circle cx="134.2" cy="611.0" r="4.9"/>
<circle cx="123.4" cy="666.9" r="4.9"/>
<circle cx="135.7" cy="652.6" r="4.9"/>
<circle cx="134.1" cy="630.1" r="4.9"/>
<circle cx="135.8" cy="627.8" r="4.9"/>
<circle cx="118.7" cy="645.4" r="4.9"/>
<circle cx="135.7" cy="590.0" r="4.9"/>
<circle cx="131.2" cy="633.1" r="4.9"/>
<circle cx="117.2" cy="672.0" r="4.9"/>
<circle cx="132.6" cy="632.7" r="4.9"/>
<circle cx="121.8" cy="682.7" r="4.9"/>
<circle cx="125.1" cy="696.7" r="4.9"/>
<circle cx="129.8" cy="651.3" r="4.9"/>
<circle cx="133.2" cy="613.5" r="4.9"/>
<circle cx="132.6" cy="701.5" r="4.9"/>
<circle cx="135.4" cy="652.4" r="4.9"/>
<circle cx="135.5" cy="635.1" r="4.9"/>
<circle cx="135.8" cy="608.2" r="4.9"/>
<circle cx="113.5" cy="698.1" r="4.9"/>
<circle cx="128.6" cy="653.0" r="4.9"/>
<circle cx="126.9" cy="657.7" r="4.9"/>
<circle cx="115.1" cy="681.3" r="4.9"/>
<circle cx="132.3" cy="585.2" r="4.9"/>
<circle cx="129.5" cy="579.1" r="4.9"/>
<circle cx="131.9" cy="611.3" r="4.9"/>
<circle cx="111.8" cy="640.6" r="4.9"/>
<circle cx="114.5" cy="686.3" r="4.9"/>
<circle cx="130.7" cy="668.9" r="4.9"/>
<circle cx="125.9" cy="645.4" r="4.9"/>
<circle cx="129.1" cy="575.6" r="4.9"/>
<circle cx="120.2" cy="653.9" r="4.9"/>
<circle cx="103.0" cy="651.7" r="4.9"/>
<circle cx="121.1" cy="676.9" r="4.9"/>
<circle cx="132.7" cy="693.8" r="4.9"/>
<circle cx="125.2" cy="684.0" r="4.9"/>
<circle cx="133.0" cy="576.5" r="4.9"/>
<circle cx="135.8" cy="604.8" r="4.9"/>
<circle cx="125.0" cy="636.9" r="4.9"/>
<circle cx="130.8" cy="626.7" r="4.9"/>
<circle cx="129.3" cy="672.5" r="4.9"/>
<circle cx="132.1" cy="613.9" r="4.9"/>
<circle cx="104.4" cy="645.2" r="4.9"/>
<circle cx="135.5" cy="645.6" r="4.9"/>
<circle cx="130.8" cy="703.1" r="4.9"/>
<circle cx="131.2" cy="614.4" r="4.9"/>
<circle cx="124.0" cy="644.6" r="4.9"/>
<circle cx="127.3" cy="635.6" r="4.9"/>
<circle cx="133.3" cy="630.4" r="4.9"/>
<circle cx="121.5" cy="637.9" r="4.9"/>
<circle cx="135.4" cy="613.4" r="4.9"/>
<circle cx="126.9" cy="628.7" r="4.9"/>
<circle cx="115.5" cy="652.7" r="4.9"/>
<circle cx="129.1" cy="604.2" r="4.9"/>
<circle cx="131.6" cy="618.6" r="4.9"/>
<circle cx="135.7" cy="586.4" r="4.9"/>
<circle cx="117.8" cy="694.6" r="4.9"/>
<circle cx="129.3" cy="689.5" r="4.9"/>
<circle cx="112.1" cy="693.2" r="4.9"/>
<circle cx="135.2" cy="612.5" r="4.9"/>
<circle cx="124.1" cy="685.1" r="4.9"/>
<circle cx="130.6" cy="625.0" r="4.9"/>
<circle cx="110.7" cy="656.4" r="4.9"/>
<circle cx="119.9" cy="682.2" r="4.9"/>
<circle cx="129.9" cy="590.5" r="4.9"/>
<circle cx="124.9" cy="672.3" r="4.9"/>
<circle cx="123.7" cy="690.1" r="4.9"/>
<circle cx="120.2" cy="635.2" r="4.9"/>
<circle cx="134.0" cy="578.6" r="4.9"/>
<circle cx="116.4" cy="677.5" r="4.9"/>
<circle cx="129.6" cy="696.4" r="4.9"/>
<circle cx="134.5" cy="635.4" r="4.9"/>
<circle cx="112.6" cy="696.5" r="4.9"/>
<circle cx="135.9" cy="617.2" r="4.9"/>
<circle cx="135.0" cy="590.2" r="4.9"/>
<circle cx="134.0" cy="621.4" r="4.9"/>
<circle cx="120.1" cy="633.4" r="4.9"/>
<circle cx="135.6" cy="631.2" r="4.9"/>
<circle cx="117.6" cy="664.5" r="4.9"/>
<circle cx="124.2" cy="704.2" r="4.9"/>
<circle cx="128.3" cy="685.0" r="4.9"/>
<circle cx="110.1" cy="657.5" r="4.9"/>
<circle cx="131.3" cy="619.2" r="4.9"/>
<circle cx="120.9" cy="634.4" r="4.9"/>
<circle cx="125.3" cy="676.5" r="4.9"/>
<circle cx="128.8" cy="657.2" r="4.9"/>
<circle cx="129.2" cy="643.5" r="4.9"/>
<circle cx="122.0" cy="703.5" r="4.9"/>
<circle cx="118.9" cy="667.0" r="4.9"/>
<circle cx="105.1" cy="652.1" r="4.9"/>
<circle cx="106.5" cy="657.8" r="4.9"/>
<circle cx="128.9" cy="654.2" r="4.9"/>
<circle cx="128.4" cy="660.8" r="4.9"/>
<circle cx="115.3" cy="683.7" r="4.9"/>
<circle cx="126.6" cy="664.0" r="4.9"/>
<circle cx="131.7" cy="617.0" r="4.9"/>
<circle cx="131.6" cy="676.6" r="4.9"/>
<circle cx="108.5" cy="648.9" r="4.9"/>
<circle cx="135.6" cy="578.3" r="4.9"/>
<circle cx="133.4" cy="670.0" r="4.9"/>
<circle cx="120.7" cy="632.3" r="4.9"/>
<circle cx="133.6" cy="703.1" r="4.9"/>
<circle cx="112.9" cy="646.4" r="4.9"/>
<circle cx="117.2" cy="674.2" r="4.9"/>
<circle cx="131.0" cy="636.7" r="4.9"/>
<circle cx="118.1" cy="693.1" r="4.9"/>
<circle cx="133.1" cy="610.6" r="4.9"/>
<circle cx="116.4" cy="695.6" r="4.9"/>
<circle cx="120.1" cy="663.7" r="4.9"/>
<circle cx="134.5" cy="648.4" r="4.9"/>
<circle cx="112.6" cy="640.3" r="4.9"/>
<circle cx="119.6" cy="686.8" r="4.9"/>
<circle cx="120.9" cy="631.1" r="4.9"/>
<circle cx="127.3" cy="637.8" r="4.9"/>
<circle cx="130.7" cy="687.0" r="4.9"/>
<circle cx="133.9" cy="592.6" r="4.9"/>
<circle cx="122.5" cy="697.0" r="4.9"/>
<circle cx="131.8" cy="691.4" r="4.9"/>
<circle cx="122.6" cy="693.0" r="4.9"/>
<circle cx="132.4" cy="621.0" r="4.9"/>
<circle cx="125.4" cy="625.8" r="4.9"/>
<circle cx="134.6" cy="611.8" r="4.9"/>
<circle cx="116.2" cy="655.3" r="4.9"/>
<circle cx="127.3" cy="693.0" r="4.9"/>
<circle cx="113.0" cy="688.6" r="4.9"/>
<circle cx="131.3" cy="685.8" r="4.9"/>
<circle cx="120.0" cy="695.9" r="4.9"/>
<circle cx="135.8" cy="679.3" r="4.9"/>
<circle cx="113.3" cy="698.7" r="4.9"/>
<circle cx="114.2" cy="650.5" r="4.9"/>
<circle cx="127.8" cy="650.6" r="4.9"/>
<circle cx="133.2" cy="616.4" r="4.9"/>
<circle cx="128.5" cy="664.2" r="4.9"/>
<circle cx="105.0" cy="657.6" r="4.9"/>
<circle cx="134.2" cy="628.4" r="4.9"/>
<circle cx="129.2" cy="629.5" r="4.9"/>
<circle cx="118.6" cy="692.5" r="4.9"/>
<circle cx="116.1" cy="675.1" r="4.9"/>
<circle cx="131.3" cy="614.2" r="4.9"/>
<circle cx="128.2" cy="623.9" r="4.9"/>
<circle cx="134.7" cy="677.7" r="4.9"/>
<circle cx="130.9" cy="690.5" r="4.9"/>
<circle cx="118.9" cy="690.4" r="4.9"/>
<circle cx="116.1" cy="693.3" r="4.9"/>
<circle cx="125.1" cy="623.0" r="4.9"/>
<circle cx="119.0" cy="668.0" r="4.9"/>
<circle cx="123.7" cy="645.6" r="4.9"/>
<circle cx="135.6" cy="638.1" r="4.9"/>
<circle cx="131.0" cy="611.5" r="4.9"/>
<circle cx="118.6" cy="691.5" r="4.9"/>
<circle cx="129.8" cy="612.2" r="4.9"/>
<circle cx="135.7" cy="573.0" r="4.9"/>
<circle cx="136.0" cy="620.2" r="4.9"/>
<circle cx="131.6" cy="637.6" r="4.9"/>
<circle cx="132.3" cy="590.6" r="4.9"/>
<circle cx="103.8" cy="657.1" r="4.9"/>
<circle cx="135.8" cy="665.2" r="4.9"/>
<circle cx="116.2" cy="645.9" r="4.9"/>
<circle cx="125.1" cy="671.6" r="4.9"/>
<circle cx="126.7" cy="624.4" r="4.9"/>
<circle cx="134.2" cy="669.8" r="4.9"/>
<circle cx="125.8" cy="626.6" r="4.9"/>
<circle cx="121.5" cy="686.3" r="4.9"/>
<circle cx="116.2" cy="681.7" r="4.9"/>
<circle cx="116.4" cy="696.8" r="4.9"/>
<circle cx="131.1" cy="672.0" r="4.9"/>
<circle cx="133.6" cy="617.9" r="4.9"/>
<circle cx="128.1" cy="681.2" r="4.9"/>
<circle cx="135.7" cy="681.2" r="4.9"/>
<circle cx="123.1" cy="684.3" r="4.9"/>
<circle cx="136.0" cy="704.4" r="4.9"/>
<circle cx="134.9" cy="663.4" r="4.9"/>
<circle cx="134.1" cy="610.9" r="4.9"/>
<circle cx="134.7" cy="606.2" r="4.9"/>
<circle cx="126.7" cy="666.0" r="4.9"/>
<circle cx="122.0" cy="682.2" r="4.9"/>
<circle cx="118.8" cy="639.6" r="4.9"/>
<circle cx="131.0" cy="579.7" r="4.9"/>
<circle cx="135.7" cy="611.8" r="4.9"/>
<circle cx="122.3" cy="689.4" r="4.9"/>
<circle cx="122.5" cy="699.4" r="4.9"/>
<circle cx="135.7" cy="650.2" r="4.9"/>
<circle cx="119.4" cy="651.2" r="4.9"/>
<circle cx="134.4" cy="636.8" r="4.9"/>
<circle cx="135.8" cy="641.4" r="4.9"/>
<circle cx="135.8" cy="700.6" r="4.9"/>
<circle cx="115.3" cy="645.0" r="4.9"/>
<circle cx="115.1" cy="645.2" r="4.9"/>
<circle cx="129.5" cy="688.5" r="4.9"/>
<circle cx="119.3" cy="695.3" r="4.9"/>
<circle cx="121.9" cy="662.1" r="4.9"/>
<circle cx="125.8" cy="652.9" r="4.9"/>
<circle cx="131.0" cy="662.0" r="4.9"/>
<circle cx="126.6" cy="694.9" r="4.9"/>
<circle cx="113.8" cy="692.6" r="4.9"/>
<circle cx="125.5" cy="634.2" r="4.9"/>
<circle cx="125.2" cy="649.0" r="4.9"/>
<circle cx="116.1" cy="674.8" r="4.9"/>
<circle cx="133.6" cy="627.1" r="4.9"/>
<circle cx="126.6" cy="656.2" r="4.9"/>
<circle cx="134.3" cy="683.8" r="4.9"/>
<circle cx="116.0" cy="645.5" r="4.9"/>
<circle cx="117.7" cy="679.1" r="4.9"/>
</g>
<g clip-path="url(#clipC)" fill="#3555a5" fill-opacity="0.86">
<circle cx="157.8" cy="524.0" r="4.9"/>
<circle cx="159.3" cy="524.0" r="4.9"/>
<circle cx="160.8" cy="524.0" r="4.9"/>
<circle cx="162.3" cy="524.0" r="4.9"/>
<circle cx="163.8" cy="524.0" r="4.9"/>
<circle cx="165.3" cy="524.0" r="4.9"/>
<circle cx="166.8" cy="524.0" r="4.9"/>
<circle cx="168.3" cy="524.0" r="4.9"/>
<circle cx="169.8" cy="524.0" r="4.9"/>
<circle cx="177.6" cy="629.8" r="4.9"/>
<circle cx="181.0" cy="643.3" r="4.9"/>
<circle cx="181.2" cy="660.1" r="4.9"/>
<circle cx="180.4" cy="668.5" r="4.9"/>
<circle cx="174.8" cy="677.5" r="4.9"/>
<circle cx="185.4" cy="689.9" r="4.9"/>
<circle cx="184.3" cy="701.7" r="4.9"/>
<circle cx="172.5" cy="666.3" r="4.9"/>
<circle cx="156.4" cy="540.1" r="4.9"/>
<circle cx="167.4" cy="560.0" r="4.9"/>
<circle cx="153.4" cy="584.2" r="4.9"/>
<circle cx="162.2" cy="588.9" r="4.9"/>
<circle cx="153.4" cy="593.6" r="4.9"/>
<circle cx="162.2" cy="596.5" r="4.9"/>
<circle cx="152.8" cy="612.2" r="4.9"/>
<circle cx="159.3" cy="615.1" r="4.9"/>
<circle cx="152.8" cy="629.1" r="4.9"/>
<circle cx="161.0" cy="628.5" r="4.9"/>
<circle cx="180.9" cy="685.0" r="4.9"/>
<circle cx="173.6" cy="704.7" r="4.9"/>
<circle cx="158.0" cy="592.0" r="4.9"/>
<circle cx="157.0" cy="603.0" r="4.9"/>
<circle cx="160.0" cy="640.0" r="4.9"/>
<circle cx="163.0" cy="648.0" r="4.9"/>
<circle cx="171.2" cy="675.3" r="4.9"/>
<circle cx="156.0" cy="674.3" r="4.9"/>
<circle cx="156.2" cy="607.7" r="4.9"/>
<circle cx="165.3" cy="684.0" r="4.9"/>
<circle cx="155.9" cy="660.8" r="4.9"/>
<circle cx="157.3" cy="647.6" r="4.9"/>
<circle cx="157.0" cy="634.0" r="4.9"/>
<circle cx="153.8" cy="617.1" r="4.9"/>
<circle cx="163.4" cy="663.7" r="4.9"/>
<circle cx="163.8" cy="674.6" r="4.9"/>
<circle cx="162.0" cy="665.0" r="4.9"/>
<circle cx="158.1" cy="680.8" r="4.9"/>
<circle cx="157.7" cy="704.8" r="4.9"/>
<circle cx="154.0" cy="639.5" r="4.9"/>
<circle cx="169.0" cy="691.4" r="4.9"/>
<circle cx="158.5" cy="627.9" r="4.9"/>
<circle cx="154.5" cy="619.0" r="4.9"/>
<circle cx="157.8" cy="618.3" r="4.9"/>
<circle cx="173.4" cy="680.4" r="4.9"/>
<circle cx="170.4" cy="669.0" r="4.9"/>
<circle cx="172.2" cy="691.5" r="4.9"/>
<circle cx="176.0" cy="698.5" r="4.9"/>
<circle cx="158.6" cy="647.9" r="4.9"/>
<circle cx="155.0" cy="666.4" r="4.9"/>
<circle cx="160.1" cy="650.6" r="4.9"/>
<circle cx="161.8" cy="650.9" r="4.9"/>
<circle cx="175.0" cy="683.1" r="4.9"/>
<circle cx="155.9" cy="627.3" r="4.9"/>
<circle cx="155.2" cy="611.1" r="4.9"/>
<circle cx="160.7" cy="645.2" r="4.9"/>
<circle cx="153.5" cy="631.6" r="4.9"/>
<circle cx="158.9" cy="630.4" r="4.9"/>
<circle cx="176.2" cy="690.6" r="4.9"/>
<circle cx="170.4" cy="676.0" r="4.9"/>
<circle cx="155.8" cy="644.1" r="4.9"/>
<circle cx="156.2" cy="651.8" r="4.9"/>
<circle cx="176.6" cy="692.5" r="4.9"/>
<circle cx="154.5" cy="687.8" r="4.9"/>
<circle cx="159.6" cy="663.1" r="4.9"/>
<circle cx="164.1" cy="681.4" r="4.9"/>
<circle cx="167.5" cy="693.6" r="4.9"/>
<circle cx="173.2" cy="680.5" r="4.9"/>
<circle cx="158.3" cy="639.3" r="4.9"/>
<circle cx="155.3" cy="658.4" r="4.9"/>
<circle cx="154.7" cy="675.6" r="4.9"/>
<circle cx="158.9" cy="635.9" r="4.9"/>
<circle cx="153.4" cy="612.5" r="4.9"/>
<circle cx="155.6" cy="619.1" r="4.9"/>
<circle cx="153.6" cy="680.3" r="4.9"/>
<circle cx="154.3" cy="701.1" r="4.9"/>
<circle cx="162.9" cy="700.8" r="4.9"/>
<circle cx="156.7" cy="649.0" r="4.9"/>
<circle cx="156.4" cy="625.9" r="4.9"/>
<circle cx="153.6" cy="632.6" r="4.9"/>
<circle cx="162.2" cy="691.2" r="4.9"/>
<circle cx="154.7" cy="636.1" r="4.9"/>
<circle cx="156.4" cy="609.5" r="4.9"/>
<circle cx="156.2" cy="639.0" r="4.9"/>
<circle cx="157.0" cy="664.3" r="4.9"/>
<circle cx="165.6" cy="676.1" r="4.9"/>
<circle cx="159.1" cy="695.5" r="4.9"/>
<circle cx="156.5" cy="641.9" r="4.9"/>
<circle cx="159.7" cy="624.8" r="4.9"/>
<circle cx="154.2" cy="673.5" r="4.9"/>
<circle cx="157.1" cy="635.9" r="4.9"/>
<circle cx="155.3" cy="612.6" r="4.9"/>
<circle cx="168.5" cy="693.3" r="4.9"/>
<circle cx="154.2" cy="612.7" r="4.9"/>
<circle cx="159.4" cy="623.1" r="4.9"/>
<circle cx="160.5" cy="647.3" r="4.9"/>
<circle cx="158.0" cy="647.0" r="4.9"/>
<circle cx="155.5" cy="607.7" r="4.9"/>
<circle cx="158.8" cy="617.5" r="4.9"/>
<circle cx="154.5" cy="651.7" r="4.9"/>
<circle cx="155.6" cy="607.0" r="4.9"/>
<circle cx="161.6" cy="655.3" r="4.9"/>
<circle cx="157.1" cy="630.8" r="4.9"/>
<circle cx="156.0" cy="645.8" r="4.9"/>
<circle cx="160.7" cy="681.9" r="4.9"/>
<circle cx="155.7" cy="609.5" r="4.9"/>
<circle cx="161.0" cy="659.8" r="4.9"/>
<circle cx="172.3" cy="695.1" r="4.9"/>
<circle cx="153.6" cy="643.9" r="4.9"/>
<circle cx="158.4" cy="663.3" r="4.9"/>
<circle cx="154.5" cy="624.8" r="4.9"/>
<circle cx="157.9" cy="626.1" r="4.9"/>
<circle cx="153.8" cy="633.1" r="4.9"/>
<circle cx="156.4" cy="613.1" r="4.9"/>
<circle cx="158.3" cy="661.4" r="4.9"/>
<circle cx="157.3" cy="648.4" r="4.9"/>
<circle cx="156.4" cy="626.2" r="4.9"/>
<circle cx="154.0" cy="622.4" r="4.9"/>
<circle cx="165.9" cy="701.3" r="4.9"/>
<circle cx="165.4" cy="661.5" r="4.9"/>
<circle cx="153.3" cy="645.9" r="4.9"/>
<circle cx="154.1" cy="654.5" r="4.9"/>
<circle cx="172.3" cy="674.9" r="4.9"/>
<circle cx="155.6" cy="658.7" r="4.9"/>
<circle cx="153.8" cy="613.7" r="4.9"/>
<circle cx="157.5" cy="626.4" r="4.9"/>
<circle cx="154.8" cy="676.8" r="4.9"/>
<circle cx="166.1" cy="683.9" r="4.9"/>
<circle cx="153.5" cy="610.7" r="4.9"/>
<circle cx="160.0" cy="690.0" r="4.9"/>
<circle cx="166.6" cy="674.2" r="4.9"/>
<circle cx="155.1" cy="620.5" r="4.9"/>
<circle cx="158.3" cy="638.4" r="4.9"/>
<circle cx="153.4" cy="668.3" r="4.9"/>
<circle cx="153.5" cy="613.5" r="4.9"/>
<circle cx="154.3" cy="607.3" r="4.9"/>
<circle cx="156.2" cy="680.5" r="4.9"/>
<circle cx="154.3" cy="641.6" r="4.9"/>
<circle cx="155.4" cy="640.1" r="4.9"/>
<circle cx="159.7" cy="644.0" r="4.9"/>
<circle cx="167.0" cy="679.6" r="4.9"/>
<circle cx="153.8" cy="612.9" r="4.9"/>
<circle cx="159.2" cy="628.8" r="4.9"/>
<circle cx="153.8" cy="651.4" r="4.9"/>
<circle cx="163.8" cy="702.7" r="4.9"/>
<circle cx="161.9" cy="646.4" r="4.9"/>
<circle cx="177.8" cy="701.0" r="4.9"/>
<circle cx="153.4" cy="650.0" r="4.9"/>
<circle cx="157.0" cy="647.1" r="4.9"/>
<circle cx="160.4" cy="679.1" r="4.9"/>
<circle cx="156.2" cy="612.0" r="4.9"/>
<circle cx="157.7" cy="626.0" r="4.9"/>
<circle cx="160.8" cy="645.0" r="4.9"/>
<circle cx="160.1" cy="661.5" r="4.9"/>
<circle cx="157.8" cy="615.1" r="4.9"/>
<circle cx="154.1" cy="672.0" r="4.9"/>
<circle cx="155.0" cy="617.9" r="4.9"/>
<circle cx="159.7" cy="642.4" r="4.9"/>
<circle cx="156.0" cy="648.5" r="4.9"/>
<circle cx="154.5" cy="636.7" r="4.9"/>
<circle cx="154.9" cy="638.3" r="4.9"/>
<circle cx="158.3" cy="615.0" r="4.9"/>
<circle cx="155.2" cy="622.9" r="4.9"/>
<circle cx="165.4" cy="667.2" r="4.9"/>
<circle cx="174.1" cy="683.5" r="4.9"/>
<circle cx="155.6" cy="634.0" r="4.9"/>
<circle cx="160.9" cy="664.1" r="4.9"/>
<circle cx="154.0" cy="629.0" r="4.9"/>
<circle cx="178.6" cy="696.9" r="4.9"/>
<circle cx="157.4" cy="681.5" r="4.9"/>
<circle cx="156.6" cy="648.7" r="4.9"/>
<circle cx="164.7" cy="691.7" r="4.9"/>
<circle cx="154.3" cy="632.1" r="4.9"/>
<circle cx="175.3" cy="700.4" r="4.9"/>
<circle cx="167.9" cy="665.6" r="4.9"/>
<circle cx="160.6" cy="689.8" r="4.9"/>
<circle cx="170.1" cy="678.7" r="4.9"/>
<circle cx="164.2" cy="695.1" r="4.9"/>
<circle cx="159.2" cy="621.6" r="4.9"/>
<circle cx="163.6" cy="650.0" r="4.9"/>
<circle cx="153.5" cy="668.3" r="4.9"/>
<circle cx="156.1" cy="612.3" r="4.9"/>
<circle cx="154.1" cy="679.3" r="4.9"/>
<circle cx="155.9" cy="634.9" r="4.9"/>
<circle cx="153.8" cy="690.6" r="4.9"/>
<circle cx="153.5" cy="624.9" r="4.9"/>
<circle cx="168.2" cy="672.1" r="4.9"/>
<circle cx="153.6" cy="693.5" r="4.9"/>
<circle cx="157.0" cy="627.3" r="4.9"/>
<circle cx="155.9" cy="640.7" r="4.9"/>
<circle cx="154.2" cy="683.3" r="4.9"/>
<circle cx="154.4" cy="696.5" r="4.9"/>
<circle cx="167.9" cy="661.3" r="4.9"/>
<circle cx="154.9" cy="614.1" r="4.9"/>
<circle cx="154.4" cy="669.7" r="4.9"/>
<circle cx="158.8" cy="645.3" r="4.9"/>
<circle cx="158.0" cy="639.9" r="4.9"/>
<circle cx="154.8" cy="643.9" r="4.9"/>
<circle cx="154.8" cy="695.1" r="4.9"/>
<circle cx="153.8" cy="659.7" r="4.9"/>
<circle cx="168.1" cy="685.6" r="4.9"/>
<circle cx="153.8" cy="617.8" r="4.9"/>
<circle cx="159.8" cy="664.3" r="4.9"/>
<circle cx="155.7" cy="609.6" r="4.9"/>
<circle cx="164.8" cy="653.6" r="4.9"/>
<circle cx="154.2" cy="697.6" r="4.9"/>
<circle cx="157.3" cy="659.7" r="4.9"/>
<circle cx="177.5" cy="691.1" r="4.9"/>
<circle cx="154.3" cy="610.2" r="4.9"/>
<circle cx="155.7" cy="621.6" r="4.9"/>
<circle cx="157.3" cy="611.6" r="4.9"/>
<circle cx="170.1" cy="702.5" r="4.9"/>
<circle cx="155.8" cy="619.1" r="4.9"/>
<circle cx="153.4" cy="685.9" r="4.9"/>
<circle cx="158.8" cy="641.2" r="4.9"/>
<circle cx="155.4" cy="626.7" r="4.9"/>
<circle cx="178.0" cy="693.7" r="4.9"/>
<circle cx="159.0" cy="627.5" r="4.9"/>
<circle cx="154.8" cy="652.7" r="4.9"/>
<circle cx="158.6" cy="634.9" r="4.9"/>
<circle cx="156.3" cy="617.6" r="4.9"/>
<circle cx="161.8" cy="655.7" r="4.9"/>
<circle cx="173.0" cy="690.1" r="4.9"/>
<circle cx="162.5" cy="651.2" r="4.9"/>
<circle cx="154.5" cy="608.3" r="4.9"/>
<circle cx="154.6" cy="612.4" r="4.9"/>
<circle cx="170.8" cy="698.1" r="4.9"/>
<circle cx="156.4" cy="624.0" r="4.9"/>
<circle cx="157.8" cy="621.6" r="4.9"/>
<circle cx="155.6" cy="638.3" r="4.9"/>
<circle cx="157.4" cy="637.9" r="4.9"/>
<circle cx="153.4" cy="613.3" r="4.9"/>
<circle cx="161.1" cy="668.1" r="4.9"/>
<circle cx="167.1" cy="667.0" r="4.9"/>
<circle cx="159.8" cy="698.2" r="4.9"/>
<circle cx="153.8" cy="606.9" r="4.9"/>
<circle cx="164.8" cy="678.0" r="4.9"/>
<circle cx="153.8" cy="623.6" r="4.9"/>
<circle cx="174.6" cy="698.6" r="4.9"/>
<circle cx="167.8" cy="691.5" r="4.9"/>
<circle cx="161.2" cy="674.4" r="4.9"/>
<circle cx="154.6" cy="632.2" r="4.9"/>
<circle cx="157.5" cy="694.9" r="4.9"/>
<circle cx="161.6" cy="695.0" r="4.9"/>
<circle cx="155.3" cy="635.7" r="4.9"/>
<circle cx="159.6" cy="687.8" r="4.9"/>
<circle cx="167.6" cy="677.1" r="4.9"/>
<circle cx="154.9" cy="642.6" r="4.9"/>
<circle cx="153.8" cy="607.7" r="4.9"/>
<circle cx="154.3" cy="622.7" r="4.9"/>
<circle cx="157.9" cy="639.0" r="4.9"/>
<circle cx="159.8" cy="691.3" r="4.9"/>
<circle cx="157.8" cy="651.6" r="4.9"/>
<circle cx="158.4" cy="698.7" r="4.9"/>
<circle cx="173.0" cy="694.6" r="4.9"/>
</g>
<g clip-path="url(#clipC)">
<line x1="136.10" y1="524.00" x2="136.10" y2="715.00" stroke="#000" stroke-width="1.8" stroke-dasharray="7 7.6" stroke-dashoffset="-7.1"/>
<line x1="152.60" y1="524.00" x2="152.60" y2="715.00" stroke="#000" stroke-width="1.8" stroke-dasharray="7 7.6" stroke-dashoffset="-7.1"/>
</g>
<line x1="52.90" y1="524.00" x2="52.90" y2="714.70" stroke="#333" stroke-width="1.1" />
<line x1="52.40" y1="714.20" x2="235.60" y2="714.20" stroke="#333" stroke-width="1.1" />
<line x1="50.40" y1="578.10" x2="52.90" y2="578.10" stroke="#333" stroke-width="1" />
<text x="48.0" y="582.4" font-size="12.3" fill="#4d4d4d" text-anchor="end" >10</text>
<line x1="50.40" y1="651.70" x2="52.90" y2="651.70" stroke="#333" stroke-width="1" />
<text x="48.0" y="656.0" font-size="12.3" fill="#4d4d4d" text-anchor="end" >5</text>
<line x1="61.40" y1="714.20" x2="61.40" y2="716.80" stroke="#333" stroke-width="1" />
<text x="61.4" y="727.6" font-size="12.8" fill="#4d4d4d" text-anchor="middle" >-1.0</text>
<line x1="102.80" y1="714.20" x2="102.80" y2="716.80" stroke="#333" stroke-width="1" />
<text x="102.8" y="727.6" font-size="12.8" fill="#4d4d4d" text-anchor="middle" >-0.5</text>
<line x1="144.20" y1="714.20" x2="144.20" y2="716.80" stroke="#333" stroke-width="1" />
<text x="144.2" y="727.6" font-size="12.8" fill="#4d4d4d" text-anchor="middle" >0.0</text>
<line x1="185.60" y1="714.20" x2="185.60" y2="716.80" stroke="#333" stroke-width="1" />
<text x="185.6" y="727.6" font-size="12.8" fill="#4d4d4d" text-anchor="middle" >0.5</text>
<line x1="227.00" y1="714.20" x2="227.00" y2="716.80" stroke="#333" stroke-width="1" />
<text x="227.0" y="727.6" font-size="12.8" fill="#4d4d4d" text-anchor="middle" >1.0</text>
<text x="145.7" y="743.9" font-size="12.45" fill="#1a1a1a" text-anchor="middle" >ΔPSI(Snord67KO-2 - 4T1)</text>
<text transform="translate(25.6,619.5) rotate(-90)" font-size="13.6" fill="#1a1a1a" text-anchor="middle">−log<tspan font-size="10" dy="3">10</tspan><tspan dy="-3">(FDR)</tspan></text>
<line x1="521.80" y1="229.30" x2="521.80" y2="466.60" stroke="#000" stroke-width="1.7" />
<line x1="521.00" y1="465.80" x2="639.00" y2="465.80" stroke="#000" stroke-width="1.7" />
<line x1="516.20" y1="242.80" x2="521.80" y2="242.80" stroke="#333" stroke-width="1.2" />
<text x="512.8" y="245.4" font-size="12.85" fill="#555555" text-anchor="end" >RNA splicing</text>
<line x1="516.20" y1="266.10" x2="521.80" y2="266.10" stroke="#333" stroke-width="1.2" />
<text x="512.8" y="268.7" font-size="12.85" fill="#555555" text-anchor="end" >regulation of mRNA metabolic process</text>
<line x1="516.20" y1="289.20" x2="521.80" y2="289.20" stroke="#333" stroke-width="1.2" />
<text x="512.8" y="291.8" font-size="12.85" fill="#555555" text-anchor="end" >RNA splicing, via transesterification reactions</text>
<line x1="516.20" y1="312.40" x2="521.80" y2="312.40" stroke="#333" stroke-width="1.2" />
<text x="512.8" y="309.4" font-size="12.85" fill="#555555" text-anchor="end" >RNA splicing, via transesterification reactions</text>
<text x="512.8" y="322.1" font-size="12.85" fill="#555555" text-anchor="end" >with bulged adenosine as nucleophile</text>
<line x1="516.20" y1="335.60" x2="521.80" y2="335.60" stroke="#333" stroke-width="1.2" />
<text x="512.8" y="338.2" font-size="12.85" fill="#555555" text-anchor="end" >mRNA splicing, via spliceosome</text>
<line x1="516.20" y1="358.60" x2="521.80" y2="358.60" stroke="#333" stroke-width="1.2" />
<text x="512.8" y="361.2" font-size="12.85" fill="#555555" text-anchor="end" >regulation of RNA splicing</text>
<line x1="516.20" y1="381.80" x2="521.80" y2="381.80" stroke="#333" stroke-width="1.2" />
<text x="512.8" y="384.4" font-size="12.85" fill="#555555" text-anchor="end" >regulation of cell morphogenesis</text>
<line x1="516.20" y1="404.90" x2="521.80" y2="404.90" stroke="#333" stroke-width="1.2" />
<text x="512.8" y="407.5" font-size="12.85" fill="#555555" text-anchor="end" >RNA catabolic process</text>
<line x1="516.20" y1="428.10" x2="521.80" y2="428.10" stroke="#333" stroke-width="1.2" />
<text x="512.8" y="430.7" font-size="12.85" fill="#555555" text-anchor="end" >regulation of mRNA processing</text>
<line x1="516.20" y1="451.20" x2="521.80" y2="451.20" stroke="#333" stroke-width="1.2" />
<text x="512.8" y="453.8" font-size="12.85" fill="#555555" text-anchor="end" >regulation of mRNA splicing, via spliceosome</text>
<circle cx="633.9" cy="243.0" r="5.50" fill="#dc5d5f" stroke="#111" stroke-width="1"/>
<circle cx="608.4" cy="266.2" r="5.10" fill="#dc5d5f" stroke="#111" stroke-width="1"/>
<circle cx="587.0" cy="289.2" r="4.70" fill="#dc5d5f" stroke="#111" stroke-width="1"/>
<circle cx="587.0" cy="312.5" r="4.70" fill="#dc5d5f" stroke="#111" stroke-width="1"/>
<circle cx="587.0" cy="335.7" r="4.70" fill="#dc5d5f" stroke="#111" stroke-width="1"/>
<circle cx="565.6" cy="358.8" r="3.90" fill="#dc5d5f" stroke="#111" stroke-width="1"/>
<circle cx="565.6" cy="382.0" r="3.90" fill="#dc5d5f" stroke="#111" stroke-width="1"/>
<circle cx="561.5" cy="405.3" r="4.10" fill="#2d78ba" stroke="#111" stroke-width="1"/>
<circle cx="535.8" cy="428.4" r="3.10" fill="#dc5d5f" stroke="#111" stroke-width="1"/>
<circle cx="527.4" cy="451.8" r="2.50" fill="#dc5d5f" stroke="#111" stroke-width="1"/>
<line x1="531.10" y1="465.80" x2="531.10" y2="468.60" stroke="#333" stroke-width="1.2" />
<text x="532.3" y="479.3" font-size="9.2" fill="#6b6b6b" text-anchor="middle" >0.03</text>
<line x1="562.10" y1="465.80" x2="562.10" y2="468.60" stroke="#333" stroke-width="1.2" />
<text x="563.3" y="479.3" font-size="9.2" fill="#6b6b6b" text-anchor="middle" >0.04</text>
<line x1="593.20" y1="465.80" x2="593.20" y2="468.60" stroke="#333" stroke-width="1.2" />
<text x="594.4" y="479.3" font-size="9.2" fill="#6b6b6b" text-anchor="middle" >0.05</text>
<line x1="624.00" y1="465.80" x2="624.00" y2="468.60" stroke="#333" stroke-width="1.2" />
<text x="625.2" y="479.3" font-size="9.2" fill="#6b6b6b" text-anchor="middle" >0.06</text>
<text x="586.3" y="489.6" font-size="9.8" fill="#222" text-anchor="middle" >GeneRatio</text>
<text x="648.8" y="301.6" font-size="9.3" fill="#222" text-anchor="start" >p.adjust</text>
<rect x="648.20" y="305.30" width="6.90" height="34.30" fill="url(#cbE)" />
<line x1="648.20" y1="315.00" x2="649.60" y2="315.00" stroke="#fff" stroke-width="0.9" />
<line x1="653.70" y1="315.00" x2="655.10" y2="315.00" stroke="#fff" stroke-width="0.9" />
<text x="658.2" y="318.1" font-size="9.25" fill="#333" text-anchor="start" >1e−07</text>
<line x1="648.20" y1="324.60" x2="649.60" y2="324.60" stroke="#fff" stroke-width="0.9" />
<line x1="653.70" y1="324.60" x2="655.10" y2="324.60" stroke="#fff" stroke-width="0.9" />
<text x="658.2" y="327.7" font-size="9.25" fill="#333" text-anchor="start" >2e−07</text>
<line x1="648.20" y1="334.30" x2="649.60" y2="334.30" stroke="#fff" stroke-width="0.9" />
<line x1="653.70" y1="334.30" x2="655.10" y2="334.30" stroke="#fff" stroke-width="0.9" />
<text x="658.2" y="337.4" font-size="9.25" fill="#333" text-anchor="start" >3e−07</text>
<text x="648.8" y="359.0" font-size="9.3" fill="#222" text-anchor="start" >Count</text>
<circle cx="652.6" cy="367.3" r="3.60" fill="none" stroke="#111" stroke-width="1"/>
<text x="660.2" y="370.7" font-size="9.4" fill="#333" text-anchor="start" >25</text>
<circle cx="652.6" cy="378.0" r="4.40" fill="none" stroke="#111" stroke-width="1"/>
<text x="660.2" y="382.3" font-size="9.4" fill="#333" text-anchor="start" >30</text>
<circle cx="652.6" cy="388.9" r="4.80" fill="none" stroke="#111" stroke-width="1"/>
<text x="660.2" y="394.0" font-size="9.4" fill="#333" text-anchor="start" >35</text>
<circle cx="652.6" cy="400.6" r="5.30" fill="none" stroke="#111" stroke-width="1"/>
<text x="660.2" y="405.4" font-size="9.4" fill="#333" text-anchor="start" >40</text>
<circle cx="652.6" cy="413.7" r="5.50" fill="none" stroke="#111" stroke-width="1"/>
<text x="660.2" y="417.4" font-size="9.4" fill="#333" text-anchor="start" >45</text>
<line x1="522.00" y1="502.40" x2="522.00" y2="735.40" stroke="#000" stroke-width="1.7" />
<line x1="521.20" y1="734.60" x2="630.70" y2="734.60" stroke="#000" stroke-width="1.7" />
<line x1="516.40" y1="516.00" x2="522.00" y2="516.00" stroke="#333" stroke-width="1.2" />
<text x="513.0" y="518.6" font-size="12.73" fill="#555555" text-anchor="end" >RNA splicing</text>
<line x1="516.40" y1="538.80" x2="522.00" y2="538.80" stroke="#333" stroke-width="1.2" />
<text x="513.0" y="541.4" font-size="12.73" fill="#555555" text-anchor="end" >regulation of mRNA metabolic process</text>
<line x1="516.40" y1="561.60" x2="522.00" y2="561.60" stroke="#333" stroke-width="1.2" />
<text x="513.0" y="564.2" font-size="12.73" fill="#555555" text-anchor="end" >forebrain development</text>
<line x1="516.40" y1="584.30" x2="522.00" y2="584.30" stroke="#333" stroke-width="1.2" />
<text x="513.0" y="586.9" font-size="12.73" fill="#555555" text-anchor="end" >RNA splicing, via transesterification reactions</text>
<line x1="516.40" y1="607.20" x2="522.00" y2="607.20" stroke="#333" stroke-width="1.2" />
<text x="513.0" y="603.8" font-size="12.73" fill="#555555" text-anchor="end" >RNA splicing, via transesterification reactions</text>
<text x="513.0" y="617.4" font-size="12.73" fill="#555555" text-anchor="end" >with bulged adenosine as nucleophile</text>
<line x1="516.40" y1="630.10" x2="522.00" y2="630.10" stroke="#333" stroke-width="1.2" />
<text x="513.0" y="632.7" font-size="12.73" fill="#555555" text-anchor="end" >mRNA splicing, via spliceosome</text>
<line x1="516.40" y1="652.90" x2="522.00" y2="652.90" stroke="#333" stroke-width="1.2" />
<text x="513.0" y="655.5" font-size="12.73" fill="#555555" text-anchor="end" >regulation of RNA splicing</text>
<line x1="516.40" y1="675.70" x2="522.00" y2="675.70" stroke="#333" stroke-width="1.2" />
<text x="513.0" y="678.3" font-size="12.73" fill="#555555" text-anchor="end" >regulation of mRNA processing</text>
<line x1="516.40" y1="698.50" x2="522.00" y2="698.50" stroke="#333" stroke-width="1.2" />
<text x="513.0" y="701.1" font-size="12.73" fill="#555555" text-anchor="end" >regulation of mRNA splicing, via spliceosome</text>
<line x1="516.40" y1="721.30" x2="522.00" y2="721.30" stroke="#333" stroke-width="1.2" />
<text x="513.0" y="717.9" font-size="12.73" fill="#555555" text-anchor="end" >regulation of alternative mRNA splicing, via</text>
<text x="513.0" y="731.5" font-size="12.73" fill="#555555" text-anchor="end" >spliceosome</text>
<circle cx="626.6" cy="516.0" r="5.50" fill="#dc5d5f" stroke="#111" stroke-width="1"/>
<circle cx="621.5" cy="538.8" r="5.20" fill="#dc5d5f" stroke="#111" stroke-width="1"/>
<circle cx="601.7" cy="561.6" r="4.70" fill="#2d78ba" stroke="#111" stroke-width="1"/>
<circle cx="596.8" cy="584.3" r="4.60" fill="#dc5d5f" stroke="#111" stroke-width="1"/>
<circle cx="596.8" cy="607.2" r="4.60" fill="#dc5d5f" stroke="#111" stroke-width="1"/>
<circle cx="596.8" cy="630.1" r="4.60" fill="#dc5d5f" stroke="#111" stroke-width="1"/>
<circle cx="591.7" cy="652.9" r="4.60" fill="#dc5d5f" stroke="#111" stroke-width="1"/>
<circle cx="571.9" cy="675.7" r="4.00" fill="#dc5d5f" stroke="#111" stroke-width="1"/>
<circle cx="562.1" cy="698.5" r="3.80" fill="#dc5d5f" stroke="#111" stroke-width="1"/>
<circle cx="527.1" cy="721.3" r="2.20" fill="#a0608e" stroke="#111" stroke-width="1"/>
<line x1="523.40" y1="734.60" x2="523.40" y2="737.40" stroke="#333" stroke-width="1.2" />
<text x="524.6" y="748.2" font-size="9.2" fill="#6b6b6b" text-anchor="middle" >0.02</text>
<line x1="546.90" y1="734.60" x2="546.90" y2="737.40" stroke="#333" stroke-width="1.2" />
<text x="548.1" y="748.2" font-size="9.2" fill="#6b6b6b" text-anchor="middle" >0.03</text>
<line x1="570.00" y1="734.60" x2="570.00" y2="737.40" stroke="#333" stroke-width="1.2" />
<text x="571.2" y="748.2" font-size="9.2" fill="#6b6b6b" text-anchor="middle" >0.04</text>
<line x1="593.30" y1="734.60" x2="593.30" y2="737.40" stroke="#333" stroke-width="1.2" />
<text x="594.5" y="748.2" font-size="9.2" fill="#6b6b6b" text-anchor="middle" >0.05</text>
<line x1="616.40" y1="734.60" x2="616.40" y2="737.40" stroke="#333" stroke-width="1.2" />
<text x="617.6" y="748.2" font-size="9.2" fill="#6b6b6b" text-anchor="middle" >0.06</text>
<text x="583.2" y="758.5" font-size="9.8" fill="#222" text-anchor="middle" >GeneRatio</text>
<text x="640.5" y="573.7" font-size="9.3" fill="#222" text-anchor="start" >p.adjust</text>
<rect x="640.50" y="577.10" width="6.50" height="34.20" fill="url(#cbE)" />
<line x1="640.50" y1="585.30" x2="641.80" y2="585.30" stroke="#fff" stroke-width="0.9" />
<line x1="645.70" y1="585.30" x2="647.00" y2="585.30" stroke="#fff" stroke-width="0.9" />
<text x="650.1" y="587.8" font-size="9.4" fill="#333" text-anchor="start" >3.0e−06</text>
<line x1="640.50" y1="593.50" x2="641.80" y2="593.50" stroke="#fff" stroke-width="0.9" />
<line x1="645.70" y1="593.50" x2="647.00" y2="593.50" stroke="#fff" stroke-width="0.9" />
<text x="650.1" y="596.0" font-size="9.4" fill="#333" text-anchor="start" >6.0e−06</text>
<line x1="640.50" y1="601.70" x2="641.80" y2="601.70" stroke="#fff" stroke-width="0.9" />
<line x1="645.70" y1="601.70" x2="647.00" y2="601.70" stroke="#fff" stroke-width="0.9" />
<text x="650.1" y="604.2" font-size="9.4" fill="#333" text-anchor="start" >9.0e−06</text>
<line x1="640.50" y1="610.00" x2="641.80" y2="610.00" stroke="#fff" stroke-width="0.9" />
<line x1="645.70" y1="610.00" x2="647.00" y2="610.00" stroke="#fff" stroke-width="0.9" />
<text x="650.1" y="612.5" font-size="9.4" fill="#333" text-anchor="start" >1.2e−05</text>
<text x="640.5" y="628.4" font-size="9.3" fill="#222" text-anchor="start" >Count</text>
<circle cx="644.3" cy="635.5" r="1.80" fill="none" stroke="#111" stroke-width="1"/>
<text x="651.2" y="639.4" font-size="9.4" fill="#333" text-anchor="start" >10</text>
<circle cx="644.3" cy="646.2" r="3.80" fill="none" stroke="#111" stroke-width="1"/>
<text x="651.2" y="651.0" font-size="9.4" fill="#333" text-anchor="start" >15</text>
<circle cx="644.3" cy="658.2" r="4.60" fill="none" stroke="#111" stroke-width="1"/>
<text x="651.2" y="662.4" font-size="9.4" fill="#333" text-anchor="start" >20</text>
<circle cx="644.3" cy="669.5" r="5.10" fill="none" stroke="#111" stroke-width="1"/>
<text x="651.2" y="673.8" font-size="9.4" fill="#333" text-anchor="start" >25</text>
<circle cx="644.3" cy="682.2" r="5.50" fill="none" stroke="#111" stroke-width="1"/>
<text x="651.2" y="685.2" font-size="9.4" fill="#333" text-anchor="start" >30</text>
<circle cx="182.6" cy="912.0" r="61.70" fill="#d2d2d2" />
<circle cx="125.6" cy="911.5" r="77" fill="#e6e6e6" clip-path="url(#c2)"/>
<circle cx="125.6" cy="911.5" r="77.00" fill="none" stroke="#555" stroke-width="0.7"/>
<circle cx="182.6" cy="912.0" r="61.70" fill="none" stroke="#555" stroke-width="0.7"/>
<text x="63.0" y="820.4" font-size="16" fill="#111" text-anchor="middle" >Snord67KO-1</text>
<text x="62.5" y="839.0" font-size="16" fill="#111" text-anchor="middle" >vs. 4T1</text>
<text x="236.4" y="831.0" font-size="16" fill="#111" text-anchor="middle" >Snord67KO-2</text>
<text x="235.8" y="849.2" font-size="16" fill="#111" text-anchor="middle" >vs. 4T1</text>
<text x="82.3" y="917.6" font-size="17.8" fill="#111" text-anchor="middle" letter-spacing="1.1">481</text>
<text x="166.5" y="917.6" font-size="17.8" fill="#111" text-anchor="middle" letter-spacing="1.1">306</text>
<text x="225.9" y="917.6" font-size="17.8" fill="#111" text-anchor="middle" letter-spacing="1.1">198</text>
<line x1="370.60" y1="789.20" x2="370.60" y2="976.50" stroke="#000" stroke-width="2.7" />
<line x1="369.00" y1="975.30" x2="649.00" y2="975.30" stroke="#000" stroke-width="2.5" />
<line x1="362.70" y1="975.30" x2="370.60" y2="975.30" stroke="#000" stroke-width="2.4" />
<text x="360.2" y="980.6" font-size="13.6" fill="#000" text-anchor="end" font-weight="bold" >0.0</text>
<line x1="362.70" y1="938.30" x2="370.60" y2="938.30" stroke="#000" stroke-width="2.4" />
<text x="360.2" y="943.6" font-size="13.6" fill="#000" text-anchor="end" font-weight="bold" >0.2</text>
<line x1="362.70" y1="901.30" x2="370.60" y2="901.30" stroke="#000" stroke-width="2.4" />
<text x="360.2" y="906.6" font-size="13.6" fill="#000" text-anchor="end" font-weight="bold" >0.4</text>
<line x1="362.70" y1="864.30" x2="370.60" y2="864.30" stroke="#000" stroke-width="2.4" />
<text x="360.2" y="869.6" font-size="13.6" fill="#000" text-anchor="end" font-weight="bold" >0.6</text>
<line x1="362.70" y1="827.30" x2="370.60" y2="827.30" stroke="#000" stroke-width="2.4" />
<text x="360.2" y="832.6" font-size="13.6" fill="#000" text-anchor="end" font-weight="bold" >0.8</text>
<line x1="362.70" y1="790.30" x2="370.60" y2="790.30" stroke="#000" stroke-width="2.4" />
<text x="360.2" y="795.6" font-size="13.6" fill="#000" text-anchor="end" font-weight="bold" >1.0</text>
<line x1="370.20" y1="975.30" x2="370.20" y2="983.10" stroke="#000" stroke-width="2.6" />
<text x="370.2" y="998.6" font-size="13.6" fill="#000" text-anchor="middle" font-weight="bold" >-15</text>
<line x1="462.60" y1="975.30" x2="462.60" y2="983.10" stroke="#000" stroke-width="2.6" />
<text x="462.6" y="998.6" font-size="13.6" fill="#000" text-anchor="middle" font-weight="bold" >-10</text>
<line x1="555.00" y1="975.30" x2="555.00" y2="983.10" stroke="#000" stroke-width="2.6" />
<text x="555.0" y="998.6" font-size="13.6" fill="#000" text-anchor="middle" font-weight="bold" >-5</text>
<line x1="647.40" y1="975.30" x2="647.40" y2="983.10" stroke="#000" stroke-width="2.6" />
<text x="647.4" y="998.6" font-size="13.6" fill="#000" text-anchor="middle" font-weight="bold" >0</text>
<polyline points="370.20,975.12 371.59,975.11 372.97,975.10 374.36,975.09 375.74,975.08 377.13,975.06 378.52,975.05 379.90,975.03 381.29,975.02 382.67,975.00 384.06,974.98 385.45,974.96 386.83,974.94 388.22,974.92 389.60,974.89 390.99,974.87 392.38,974.84 393.76,974.82 395.15,974.79 396.53,974.76 397.92,974.72 399.31,974.69 400.69,974.65 402.08,974.61 403.46,974.57 404.85,974.52 406.24,974.48 407.62,974.43 409.01,974.38 410.39,974.32 411.78,974.26 413.17,974.20 414.55,974.13 415.94,974.06 417.32,973.98 418.71,973.91 420.10,973.82 421.48,973.73 422.87,973.64 424.25,973.54 425.64,973.43 427.03,973.32 428.41,973.20 429.80,973.07 431.18,972.94 432.57,972.80 433.96,972.65 435.34,972.49 436.73,972.32 438.11,972.14 439.50,971.95 440.89,971.75 442.27,971.54 443.66,971.32 445.04,971.08 446.43,970.83 447.82,970.57 449.20,970.29 450.59,969.99 451.97,969.68 453.36,969.35 454.75,969.00 456.13,968.63 457.52,968.24 458.90,967.83 460.29,967.39 461.68,966.93 463.06,966.45 464.45,965.93 465.83,965.40 467.22,964.83 468.61,964.23 469.99,963.60 471.38,962.93 472.76,962.23 474.15,961.50 475.54,960.73 476.92,959.91 478.31,959.06 479.69,958.16 481.08,957.22 482.47,956.24 483.85,955.20 485.24,954.12 486.62,952.99 488.01,951.80 489.40,950.57 490.78,949.27 492.17,947.92 493.55,946.52 494.94,945.05 496.33,943.53 497.71,941.95 499.10,940.30 500.48,938.60 501.87,936.83 503.26,935.00 504.64,933.11 506.03,931.16 507.41,929.14 508.80,927.07 510.19,924.94 511.57,922.74 512.96,920.50 514.34,918.19 515.73,915.84 517.12,913.43 518.50,910.98 519.89,908.48 521.27,905.95 522.66,903.37 524.05,900.76 525.43,898.12 526.82,895.46 528.20,892.77 529.59,890.07 530.98,887.36 532.36,884.64 533.75,881.91 535.13,879.19 536.52,876.47 537.91,873.76 539.29,871.08 540.68,868.41 542.06,865.76 543.45,863.15 544.84,860.56 546.22,858.02 547.61,855.51 548.99,853.05 550.38,850.64 551.77,848.27 553.15,845.96 554.54,843.70 555.92,841.50 557.31,839.35 558.70,837.27 560.08,835.24 561.47,833.28 562.85,831.37 564.24,829.53 565.63,827.75 567.01,826.03 568.40,824.38 569.78,822.78 571.17,821.24 572.56,819.77 573.94,818.35 575.33,816.99 576.71,815.69 578.10,814.44 579.49,813.24 580.87,812.10 582.26,811.01 583.64,809.97 585.03,808.97 586.42,808.02 587.80,807.12 589.19,806.25 590.57,805.43 591.96,804.65 593.35,803.91 594.73,803.20 596.12,802.53 597.50,801.90 598.89,801.29 600.28,800.72 601.66,800.17 603.05,799.65 604.43,799.16 605.82,798.70 607.21,798.26 608.59,797.84 609.98,797.45 611.36,797.07 612.75,796.72 614.14,796.39 615.52,796.07 616.91,795.77 618.29,795.49 619.68,795.22 621.07,794.97 622.45,794.73 623.84,794.50 625.22,794.29 626.61,794.09 628.00,793.89 629.38,793.71 630.77,793.54 632.15,793.38 633.54,793.23 634.93,793.09 636.31,792.95 637.70,792.83 639.08,792.70 640.47,792.59 641.86,792.48 643.24,792.38 644.63,792.29 646.01,792.20 647.40,792.11" fill="none" stroke="#ec3338" stroke-width="4.3" stroke-linecap="butt"/>
<polyline points="373.90,975.20 375.26,975.19 376.63,975.18 378.00,975.18 379.37,975.17 380.73,975.16 382.10,975.15 383.47,975.14 384.84,975.13 386.20,975.12 387.57,975.11 388.94,975.10 390.31,975.08 391.67,975.07 393.04,975.05 394.41,975.04 395.78,975.02 397.14,975.00 398.51,974.98 399.88,974.96 401.25,974.94 402.61,974.92 403.98,974.89 405.35,974.87 406.72,974.84 408.08,974.81 409.45,974.78 410.82,974.74 412.19,974.70 413.55,974.67 414.92,974.62 416.29,974.58 417.66,974.53 419.02,974.48 420.39,974.43 421.76,974.37 423.13,974.31 424.49,974.25 425.86,974.18 427.23,974.11 428.60,974.03 429.96,973.95 431.33,973.86 432.70,973.77 434.07,973.67 435.43,973.57 436.80,973.45 438.17,973.33 439.54,973.21 440.90,973.07 442.27,972.93 443.64,972.78 445.01,972.61 446.37,972.44 447.74,972.26 449.11,972.06 450.48,971.85 451.84,971.63 453.21,971.40 454.58,971.15 455.95,970.89 457.31,970.61 458.68,970.31 460.05,969.99 461.42,969.66 462.78,969.30 464.15,968.92 465.52,968.52 466.89,968.09 468.25,967.64 469.62,967.16 470.99,966.66 472.36,966.12 473.72,965.55 475.09,964.95 476.46,964.32 477.83,963.65 479.20,962.94 480.56,962.19 481.93,961.40 483.30,960.56 484.67,959.68 486.03,958.75 487.40,957.77 488.77,956.74 490.14,955.66 491.50,954.52 492.87,953.33 494.24,952.07 495.61,950.76 496.97,949.38 498.34,947.94 499.71,946.43 501.08,944.86 502.44,943.22 503.81,941.51 505.18,939.73 506.55,937.87 507.91,935.95 509.28,933.96 510.65,931.89 512.02,929.76 513.38,927.55 514.75,925.28 516.12,922.94 517.49,920.54 518.85,918.07 520.22,915.54 521.59,912.96 522.96,910.32 524.32,907.63 525.69,904.90 527.06,902.13 528.43,899.31 529.79,896.47 531.16,893.60 532.53,890.71 533.90,887.81 535.26,884.89 536.63,881.98 538.00,879.09 539.37,876.21 540.73,873.34 542.10,870.48 543.47,867.66 544.84,864.86 546.20,862.09 547.57,859.37 548.94,856.69 550.31,854.05 551.67,851.47 553.04,848.94 554.41,846.47 555.78,844.06 557.14,841.71 558.51,839.43 559.88,837.21 561.25,835.07 562.61,832.99 563.98,830.98 565.35,829.04 566.72,827.17 568.08,825.37 569.45,823.64 570.82,821.97 572.19,820.38 573.55,818.85 574.92,817.38 576.29,815.98 577.66,814.65 579.02,813.37 580.39,812.15 581.76,810.99 583.13,809.89 584.49,808.83 585.86,807.83 587.23,806.88 588.60,805.98 589.96,805.13 591.33,804.31 592.70,803.54 594.07,802.81 595.43,802.12 596.80,801.47 598.17,800.85 599.54,800.27 600.90,799.71 602.27,799.19 603.64,798.70 605.01,798.23 606.37,797.79 607.74,797.37 609.11,796.98 610.48,796.61 611.84,796.26 613.21,795.94 614.58,795.63 615.95,795.33 617.31,795.06 618.68,794.80 620.05,794.56 621.42,794.33 622.78,794.11 624.15,793.91 625.52,793.71 626.89,793.53 628.25,793.36 629.62,793.20 630.99,793.05 632.36,792.91 633.72,792.78 635.09,792.65 636.46,792.54 637.83,792.43 639.19,792.32 640.56,792.22 641.93,792.13 643.30,792.05 644.66,791.96 646.03,791.89 647.40,791.82" fill="none" stroke="#6a5aa8" stroke-width="2.2" stroke-linecap="butt"/>
<polyline points="376.67,975.26 378.02,975.26 379.38,975.25 380.73,975.25 382.08,975.25 383.44,975.24 384.79,975.24 386.14,975.23 387.50,975.23 388.85,975.22 390.20,975.22 391.56,975.21 392.91,975.21 394.27,975.20 395.62,975.19 396.97,975.18 398.33,975.18 399.68,975.17 401.03,975.16 402.39,975.15 403.74,975.14 405.09,975.12 406.45,975.11 407.80,975.10 409.16,975.08 410.51,975.07 411.86,975.05 413.22,975.03 414.57,975.01 415.92,974.99 417.28,974.97 418.63,974.94 419.99,974.92 421.34,974.89 422.69,974.86 424.05,974.83 425.40,974.79 426.75,974.76 428.11,974.72 429.46,974.68 430.81,974.63 432.17,974.58 433.52,974.53 434.88,974.48 436.23,974.42 437.58,974.35 438.94,974.28 440.29,974.21 441.64,974.13 443.00,974.05 444.35,973.96 445.70,973.86 447.06,973.76 448.41,973.65 449.77,973.53 451.12,973.40 452.47,973.26 453.83,973.12 455.18,972.96 456.53,972.79 457.89,972.61 459.24,972.42 460.59,972.22 461.95,972.00 463.30,971.76 464.66,971.51 466.01,971.24 467.36,970.95 468.72,970.64 470.07,970.32 471.42,969.96 472.78,969.59 474.13,969.19 475.49,968.76 476.84,968.30 478.19,967.81 479.55,967.29 480.90,966.74 482.25,966.15 483.61,965.52 484.96,964.85 486.31,964.14 487.67,963.38 489.02,962.57 490.38,961.72 491.73,960.81 493.08,959.84 494.44,958.82 495.79,957.74 497.14,956.59 498.50,955.38 499.85,954.10 501.20,952.75 502.56,951.33 503.91,949.83 505.27,948.25 506.62,946.59 507.97,944.85 509.33,943.02 510.68,941.11 512.03,939.12 513.39,937.04 514.74,934.87 516.09,932.61 517.45,930.27 518.80,927.84 520.16,925.32 521.51,922.73 522.86,920.05 524.22,917.30 525.57,914.48 526.92,911.59 528.28,908.63 529.63,905.62 530.99,902.55 532.34,899.44 533.69,896.29 535.05,893.11 536.40,889.90 537.75,886.67 539.11,883.44 540.46,880.42 541.81,877.43 543.17,874.46 544.52,871.50 545.88,868.57 547.23,865.67 548.58,862.80 549.94,859.97 551.29,857.19 552.64,854.46 554.00,851.78 555.35,849.16 556.70,846.60 558.06,844.11 559.41,841.68 560.77,839.33 562.12,837.04 563.47,834.83 564.83,832.69 566.18,830.62 567.53,828.63 568.89,826.71 570.24,824.87 571.60,823.10 572.95,821.41 574.30,819.78 575.66,818.23 577.01,816.75 578.36,815.33 579.72,813.98 581.07,812.69 582.42,811.47 583.78,810.30 585.13,809.19 586.49,808.14 587.84,807.15 589.19,806.20 590.55,805.30 591.90,804.46 593.25,803.65 594.61,802.89 595.96,802.18 597.31,801.50 598.67,800.86 600.02,800.25 601.38,799.68 602.73,799.14 604.08,798.64 605.44,798.16 606.79,797.71 608.14,797.28 609.50,796.89 610.85,796.51 612.20,796.16 613.56,795.82 614.91,795.51 616.27,795.21 617.62,794.94 618.97,794.68 620.33,794.43 621.68,794.20 623.03,793.99 624.39,793.78 625.74,793.59 627.10,793.41 628.45,793.25 629.80,793.09 631.16,792.94 632.51,792.80 633.86,792.67 635.22,792.55 636.57,792.43 637.92,792.33 639.28,792.22 640.63,792.13 641.99,792.04 643.34,791.96 644.69,791.88 646.05,791.81 647.40,791.74" fill="none" stroke="#000" stroke-width="3.8" stroke-linecap="butt"/>
<line x1="389.30" y1="797.10" x2="411.10" y2="797.10" stroke="#000" stroke-width="2.6" />
<text x="421.0" y="802.5" font-size="14.7" fill="#000" text-anchor="start" >4T1</text>
<line x1="389.30" y1="814.20" x2="411.10" y2="814.20" stroke="#e8373d" stroke-width="2.6" />
<text x="421.0" y="819.6" font-size="14.7" fill="#000" text-anchor="start" >Snord67KO-1</text>
<line x1="389.30" y1="831.30" x2="411.10" y2="831.30" stroke="#6a5aa8" stroke-width="2.6" />
<text x="421.0" y="836.4" font-size="14.7" fill="#000" text-anchor="start" >Snord67KO-2</text>
<text x="415.2" y="1017.8" font-size="14.7" font-weight="bold" fill="#000">log<tspan font-size="10.5" dy="3.5">2</tspan><tspan dy="-3.5">(Intron Retention Rate)</tspan></text>
<text transform="translate(330.0,882.7) rotate(-90)" font-size="14.9" font-weight="bold" fill="#000" text-anchor="middle">Cumulative Frequency</text>
</svg></body></html>
